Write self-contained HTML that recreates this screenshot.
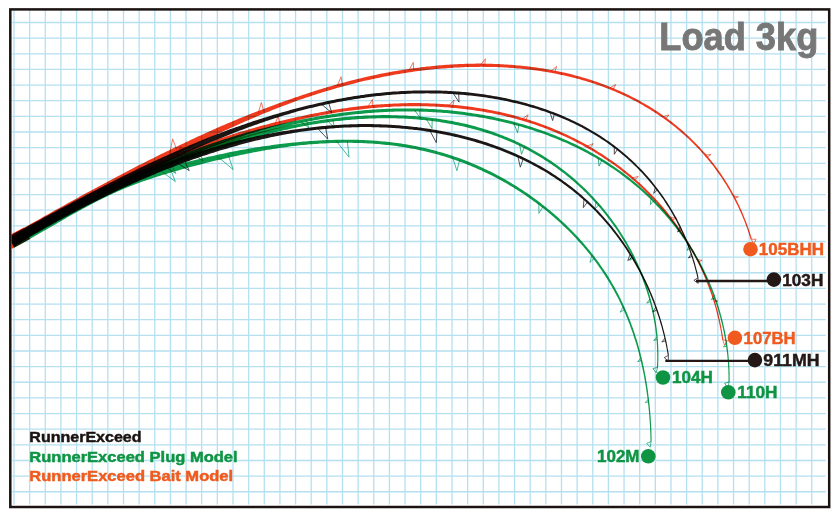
<!DOCTYPE html>
<html lang="en"><head><meta charset="utf-8"><title>Load 3kg bend curve</title>
<style>
html,body{margin:0;padding:0;background:#fff}
body{width:840px;height:521px;overflow:hidden;position:relative;font-family:"Liberation Sans",sans-serif}
#chart{position:absolute;left:0;top:0;width:840px;height:521px}
</style></head><body>
<div id="chart">
<svg width="840" height="521" viewBox="0 0 840 521" style="position:absolute;left:0;top:0">
<rect width="840" height="521" fill="#fff"/>
<path d="M14.00 10V504.5M29.64 10V504.5M45.28 10V504.5M60.93 10V504.5M76.57 10V504.5M92.21 10V504.5M107.85 10V504.5M123.49 10V504.5M139.14 10V504.5M154.78 10V504.5M170.42 10V504.5M186.06 10V504.5M201.70 10V504.5M217.35 10V504.5M232.99 10V504.5M248.63 10V504.5M264.27 10V504.5M279.91 10V504.5M295.56 10V504.5M311.20 10V504.5M326.84 10V504.5M342.48 10V504.5M358.12 10V504.5M373.77 10V504.5M389.41 10V504.5M405.05 10V504.5M420.69 10V504.5M436.33 10V504.5M451.98 10V504.5M467.62 10V504.5M483.26 10V504.5M498.90 10V504.5M514.54 10V504.5M530.19 10V504.5M545.83 10V504.5M561.47 10V504.5M577.11 10V504.5M592.75 10V504.5M608.40 10V504.5M624.04 10V504.5M639.68 10V504.5M655.32 10V504.5M670.96 10V504.5M686.61 10V504.5M702.25 10V504.5M717.89 10V504.5M733.53 10V504.5M749.17 10V504.5M764.82 10V504.5M780.46 10V504.5M796.10 10V504.5M811.74 10V504.5M12.3 22.50H825.8M12.3 38.14H825.8M12.3 53.78H825.8M12.3 69.43H825.8M12.3 85.07H825.8M12.3 100.71H825.8M12.3 116.35H825.8M12.3 131.99H825.8M12.3 147.64H825.8M12.3 163.28H825.8M12.3 178.92H825.8M12.3 194.56H825.8M12.3 210.20H825.8M12.3 225.85H825.8M12.3 241.49H825.8M12.3 257.13H825.8M12.3 272.77H825.8M12.3 288.41H825.8M12.3 304.06H825.8M12.3 319.70H825.8M12.3 335.34H825.8M12.3 350.98H825.8M12.3 366.62H825.8M12.3 382.27H825.8M12.3 397.91H825.8M12.3 413.55H825.8M12.3 429.19H825.8M12.3 444.83H825.8M12.3 460.48H825.8M12.3 476.12H825.8M12.3 491.76H825.8" stroke="#b4e0f0" stroke-width="1.3" fill="none"/>
<defs><clipPath id="inner"><rect x="11.4" y="10.6" width="816.6" height="495"/></clipPath></defs>
<g clip-path="url(#inner)" style="mix-blend-mode:multiply">
<path d="M9 242.9L27 233.2" stroke="#f03a1e" stroke-width="13.2" fill="none"/>
<path d="M14.4 247.7 L16.1 246.8 L17.8 245.8 L19.4 244.9 L21.1 244.0 L22.8 243.0 L24.6 242.0 L26.3 241.1 L28.0 240.1 L29.7 239.1 L31.4 238.1 L33.2 237.1 L34.9 236.1 L36.6 235.1 L38.4 234.1 L40.1 233.1 L41.9 232.1 L43.6 231.1 L45.4 230.1 L47.2 229.0 L49.0 228.0 L50.7 227.0 L52.5 225.9 L54.3 224.9 L56.1 223.9 L57.9 222.8 L59.7 221.8 L61.5 220.7 L63.3 219.7 L65.1 218.7 L66.9 217.6 L68.7 216.6 L70.6 215.6 L72.4 214.5 L74.2 213.5 L76.1 212.5 L77.9 211.5 L79.7 210.5 L81.6 209.5 L83.4 208.5 L85.3 207.5 L87.2 206.5 L89.0 205.5 L90.9 204.5 L92.7 203.5 L94.6 202.5 L96.5 201.6 L98.4 200.6 L100.3 199.7 L102.1 198.7 L104.0 197.8 L105.9 196.9 L107.8 196.0 L109.7 195.1 L111.6 194.2 L113.5 193.3 L115.5 192.5 L117.4 191.6 L119.3 190.8 L121.2 189.9 L123.1 189.1 L125.0 188.3 L127.0 187.5 L128.9 186.7 L130.8 186.0 L132.8 185.2 L134.7 184.5 L136.7 183.7 L138.6 183.0 L140.6 182.3 L142.5 181.6 L144.5 180.9 L146.5 180.2 L148.4 179.6 L150.4 178.9 L152.4 178.2 L154.3 177.6 L156.3 177.0 L158.3 176.3 L160.3 175.7 L162.3 175.1 L164.3 174.5 L166.3 173.9 L168.3 173.3 L170.3 172.7 L172.3 172.1 L174.3 171.5 L176.3 170.9 L178.3 170.4 L180.3 169.8 L182.3 169.3 L184.3 168.7 L186.4 168.1 L188.4 167.6 L190.4 167.1 L192.5 166.5 L194.5 166.0 L196.5 165.4 L198.6 164.9 L200.6 164.4 L202.6 163.9 L204.7 163.3 L206.7 162.8 L208.8 162.3 L210.8 161.8 L212.8 161.3 L214.9 160.8 L216.9 160.3 L219.0 159.9 L221.1 159.4 L223.1 158.9 L225.2 158.4 L227.2 158.0 L229.3 157.5 L231.3 157.1 L233.4 156.6 L235.5 156.2 L237.5 155.7 L239.6 155.3 L241.7 154.8 L243.7 154.4 L245.8 154.0 L247.8 153.6 L249.9 153.2 L252.0 152.7 L254.0 152.3 L256.1 151.9 L258.2 151.6 L260.3 151.2 L262.3 150.8 L264.4 150.4 L266.5 150.1 L268.6 149.7 L270.6 149.4 L272.7 149.0 L274.8 148.7 L276.9 148.4 L278.9 148.1 L281.0 147.8 L283.1 147.5 L285.2 147.2 L287.2 146.9 L289.3 146.6 L291.4 146.3 L293.5 146.1 L295.6 145.8 L297.6 145.6 L299.7 145.3 L301.8 145.1 L303.9 144.9 L306.0 144.7 L308.0 144.5 L310.1 144.3 L312.2 144.2 L314.3 144.0 L316.4 143.9 L318.4 143.7 L320.5 143.6 L322.6 143.5 L324.7 143.4 L326.7 143.3 L328.8 143.2 L330.9 143.1 L333.0 143.0 L335.0 143.0 L337.1 142.9 L339.2 142.9 L341.3 142.8 L343.3 142.8 L345.4 142.8 L347.5 142.8 L349.5 142.8 L351.6 142.8 L353.7 142.9 L355.7 142.9 L357.8 143.0 L359.9 143.0 L361.9 143.1 L364.0 143.2 L366.0 143.3 L368.1 143.4 L370.1 143.5 L372.2 143.6 L374.2 143.8 L376.3 143.9 L378.3 144.1 L380.4 144.3 L382.4 144.5 L384.5 144.7 L386.5 144.9 L388.5 145.1 L390.6 145.3 L392.6 145.6 L394.6 145.8 L396.7 146.1 L398.7 146.4 L400.7 146.7 L402.8 147.0 L404.8 147.3 L406.8 147.7 L408.8 148.0 L410.8 148.4 L412.9 148.7 L414.9 149.1 L416.9 149.5 L418.9 149.9 L420.9 150.4 L422.9 150.8 L424.9 151.3 L426.9 151.7 L428.9 152.2 L430.9 152.7 L432.9 153.2 L434.8 153.7 L436.8 154.3 L438.8 154.8 L440.8 155.4 L442.8 156.0 L444.7 156.6 L446.7 157.2 L448.7 157.8 L450.6 158.4 L452.6 159.1 L454.5 159.8 L456.5 160.5 L458.4 161.1 L460.4 161.9 L462.3 162.6 L464.3 163.3 L466.2 164.1 L468.1 164.9 L470.1 165.6 L472.0 166.4 L473.9 167.2 L475.8 168.1 L477.7 168.9 L479.6 169.7 L481.5 170.6 L483.4 171.5 L485.3 172.4 L487.2 173.3 L489.1 174.2 L491.0 175.1 L492.8 176.1 L494.7 177.0 L496.6 178.0 L498.4 179.0 L500.3 180.0 L502.1 181.0 L503.9 182.0 L505.8 183.1 L507.6 184.1 L509.4 185.2 L511.2 186.3 L513.0 187.3 L514.8 188.4 L516.6 189.6 L518.4 190.7 L520.1 191.8 L521.9 193.0 L523.7 194.1 L525.4 195.3 L527.1 196.5 L528.9 197.7 L530.6 198.9 L532.3 200.1 L534.0 201.4 L535.7 202.6 L537.4 203.9 L539.1 205.1 L540.8 206.4 L542.4 207.7 L544.1 209.0 L545.7 210.3 L547.4 211.6 L549.0 213.0 L550.6 214.3 L552.2 215.7 L553.8 217.0 L555.4 218.4 L556.9 219.8 L558.5 221.2 L560.1 222.6 L561.6 224.1 L563.1 225.5 L564.7 226.9 L566.2 228.4 L567.7 229.8 L569.1 231.3 L570.6 232.8 L572.1 234.3 L573.5 235.8 L575.0 237.3 L576.4 238.8 L577.8 240.4 L579.2 241.9 L580.6 243.5 L582.0 245.0 L583.4 246.6 L584.7 248.2 L586.1 249.8 L587.4 251.4 L588.7 253.0 L590.0 254.6 L591.3 256.2 L592.6 257.9 L593.8 259.5 L595.1 261.2 L596.3 262.8 L597.5 264.5 L598.7 266.2 L599.9 267.9 L601.1 269.6 L602.2 271.3 L603.4 273.0 L604.5 274.7 L605.6 276.4 L606.7 278.2 L607.8 279.9 L608.9 281.7 L610.0 283.4 L611.0 285.2 L612.0 287.0 L613.0 288.8 L614.0 290.6 L615.0 292.4 L616.0 294.2 L616.9 296.0 L617.9 297.8 L618.8 299.6 L619.7 301.5 L620.6 303.3 L621.5 305.2 L622.3 307.0 L623.2 308.9 L624.0 310.8 L624.8 312.7 L625.7 314.5 L626.4 316.4 L627.2 318.3 L628.0 320.2 L628.7 322.2 L629.5 324.1 L630.2 326.0 L630.9 327.9 L631.6 329.9 L632.3 331.8 L633.0 333.8 L633.6 335.7 L634.2 337.7 L634.9 339.7 L635.5 341.6 L636.1 343.6 L636.7 345.6 L637.3 347.6 L637.8 349.6 L638.4 351.6 L638.9 353.6 L639.4 355.6 L639.9 357.6 L640.4 359.6 L640.9 361.7 L641.4 363.7 L641.8 365.7 L642.3 367.8 L642.7 369.8 L643.2 371.9 L643.6 373.9 L644.0 376.0 L644.3 378.1 L644.7 380.1 L645.1 382.2 L645.4 384.3 L645.8 386.4 L646.1 388.5 L646.4 390.5 L646.7 392.6 L647.0 394.7 L647.3 396.8 L647.5 398.9 L647.8 401.1 L648.0 403.2 L648.3 405.3 L648.5 407.4 L648.7 409.5 L648.9 411.7 L649.1 413.8 L649.3 415.9 L649.4 418.1 L649.6 420.2 L649.7 422.3 L649.9 424.5 L650.0 426.6 L650.1 428.8 L650.2 430.9 L650.3 433.1 L650.4 435.2 L650.4 437.4 L650.5 439.6 L650.5 441.7 L651.6 441.7 L651.6 439.5 L651.6 437.4 L651.5 435.2 L651.4 433.0 L651.4 430.9 L651.3 428.7 L651.2 426.6 L651.1 424.4 L650.9 422.3 L650.8 420.1 L650.7 418.0 L650.5 415.8 L650.3 413.7 L650.2 411.5 L650.0 409.4 L649.8 407.3 L649.6 405.1 L649.3 403.0 L649.1 400.9 L648.9 398.8 L648.6 396.7 L648.3 394.6 L648.1 392.4 L647.8 390.3 L647.5 388.2 L647.1 386.1 L646.8 384.1 L646.5 382.0 L646.1 379.9 L645.8 377.8 L645.4 375.7 L645.0 373.7 L644.6 371.6 L644.2 369.5 L643.8 367.5 L643.3 365.4 L642.9 363.4 L642.4 361.3 L641.9 359.3 L641.4 357.2 L640.9 355.2 L640.4 353.2 L639.9 351.2 L639.4 349.2 L638.8 347.1 L638.2 345.1 L637.7 343.1 L637.1 341.1 L636.5 339.2 L635.8 337.2 L635.2 335.2 L634.6 333.2 L633.9 331.3 L633.2 329.3 L632.5 327.3 L631.8 325.4 L631.1 323.5 L630.4 321.5 L629.6 319.6 L628.9 317.7 L628.1 315.8 L627.3 313.8 L626.5 311.9 L625.7 310.0 L624.9 308.2 L624.0 306.3 L623.2 304.4 L622.3 302.5 L621.4 300.7 L620.5 298.8 L619.6 297.0 L618.6 295.1 L617.7 293.3 L616.7 291.5 L615.7 289.6 L614.8 287.8 L613.7 286.0 L612.7 284.2 L611.7 282.4 L610.6 280.6 L609.5 278.9 L608.5 277.1 L607.4 275.3 L606.2 273.6 L605.1 271.9 L604.0 270.1 L602.8 268.4 L601.6 266.7 L600.4 265.0 L599.2 263.3 L598.0 261.6 L596.8 259.9 L595.5 258.2 L594.3 256.6 L593.0 254.9 L591.7 253.3 L590.4 251.6 L589.1 250.0 L587.8 248.4 L586.4 246.8 L585.1 245.2 L583.7 243.6 L582.3 242.0 L580.9 240.4 L579.5 238.8 L578.1 237.3 L576.7 235.7 L575.2 234.2 L573.8 232.7 L572.3 231.2 L570.8 229.7 L569.3 228.2 L567.8 226.7 L566.3 225.2 L564.8 223.7 L563.2 222.3 L561.7 220.9 L560.1 219.4 L558.6 218.0 L557.0 216.6 L555.4 215.2 L553.8 213.8 L552.2 212.4 L550.6 211.1 L548.9 209.7 L547.3 208.4 L545.7 207.0 L544.0 205.7 L542.3 204.4 L540.6 203.1 L539.0 201.8 L537.3 200.5 L535.6 199.3 L533.8 198.0 L532.1 196.8 L530.4 195.5 L528.7 194.3 L526.9 193.1 L525.1 191.9 L523.4 190.7 L521.6 189.6 L519.8 188.4 L518.0 187.3 L516.2 186.1 L514.4 185.0 L512.6 183.9 L510.8 182.8 L509.0 181.7 L507.2 180.7 L505.3 179.6 L503.5 178.6 L501.6 177.5 L499.8 176.5 L497.9 175.5 L496.0 174.5 L494.2 173.5 L492.3 172.6 L490.4 171.6 L488.5 170.7 L486.6 169.8 L484.7 168.9 L482.8 168.0 L480.9 167.1 L478.9 166.2 L477.0 165.3 L475.1 164.5 L473.1 163.7 L471.2 162.9 L469.3 162.1 L467.3 161.3 L465.4 160.5 L463.4 159.8 L461.4 159.0 L459.5 158.3 L457.5 157.6 L455.5 156.9 L453.5 156.2 L451.6 155.6 L449.6 154.9 L447.6 154.3 L445.6 153.7 L443.6 153.1 L441.6 152.5 L439.6 151.9 L437.6 151.4 L435.6 150.8 L433.6 150.3 L431.6 149.8 L429.6 149.3 L427.6 148.8 L425.6 148.3 L423.6 147.8 L421.5 147.4 L419.5 146.9 L417.5 146.5 L415.5 146.1 L413.4 145.7 L411.4 145.3 L409.4 145.0 L407.3 144.6 L405.3 144.3 L403.2 144.0 L401.2 143.6 L399.1 143.3 L397.1 143.0 L395.1 142.8 L393.0 142.5 L390.9 142.3 L388.9 142.0 L386.8 141.8 L384.8 141.6 L382.7 141.4 L380.7 141.2 L378.6 141.0 L376.5 140.8 L374.5 140.7 L372.4 140.5 L370.3 140.4 L368.3 140.3 L366.2 140.2 L364.1 140.1 L362.0 140.0 L360.0 139.9 L357.9 139.8 L355.8 139.8 L353.7 139.7 L351.6 139.7 L349.6 139.7 L347.5 139.7 L345.4 139.7 L343.3 139.7 L341.2 139.7 L339.1 139.7 L337.1 139.8 L335.0 139.8 L332.9 139.9 L330.8 139.9 L328.7 140.0 L326.6 140.1 L324.5 140.2 L322.4 140.3 L320.3 140.4 L318.2 140.5 L316.1 140.7 L314.1 140.8 L312.0 141.0 L309.9 141.1 L307.8 141.3 L305.7 141.5 L303.6 141.6 L301.5 141.8 L299.4 142.0 L297.3 142.2 L295.2 142.4 L293.1 142.6 L291.0 142.8 L288.9 143.0 L286.8 143.3 L284.7 143.5 L282.6 143.7 L280.5 144.0 L278.4 144.3 L276.3 144.5 L274.2 144.8 L272.1 145.1 L270.0 145.4 L267.9 145.7 L265.8 146.0 L263.7 146.3 L261.6 146.6 L259.5 146.9 L257.4 147.3 L255.4 147.6 L253.3 147.9 L251.2 148.3 L249.1 148.6 L247.0 149.0 L244.9 149.4 L242.8 149.7 L240.7 150.1 L238.6 150.5 L236.5 150.9 L234.5 151.3 L232.4 151.7 L230.3 152.1 L228.2 152.6 L226.1 153.0 L224.1 153.4 L222.0 153.9 L219.9 154.3 L217.8 154.8 L215.8 155.2 L213.7 155.7 L211.6 156.2 L209.6 156.6 L207.5 157.1 L205.4 157.6 L203.4 158.1 L201.3 158.5 L199.3 159.0 L197.2 159.5 L195.2 160.0 L193.1 160.5 L191.0 161.0 L189.0 161.6 L187.0 162.1 L184.9 162.6 L182.9 163.1 L180.8 163.6 L178.8 164.2 L176.7 164.7 L174.7 165.2 L172.7 165.8 L170.6 166.3 L168.6 166.9 L166.6 167.5 L164.6 168.0 L162.5 168.6 L160.5 169.2 L158.5 169.8 L156.5 170.4 L154.5 171.0 L152.4 171.6 L150.4 172.2 L148.4 172.9 L146.4 173.5 L144.4 174.2 L142.4 174.8 L140.4 175.5 L138.4 176.2 L136.4 176.9 L134.4 177.6 L132.4 178.3 L130.5 179.1 L128.5 179.8 L126.5 180.6 L124.5 181.4 L122.5 182.2 L120.6 183.0 L118.6 183.8 L116.6 184.6 L114.7 185.4 L112.7 186.3 L110.8 187.2 L108.8 188.0 L106.9 188.9 L104.9 189.8 L103.0 190.7 L101.1 191.6 L99.1 192.5 L97.2 193.5 L95.3 194.4 L93.4 195.4 L91.5 196.3 L89.6 197.3 L87.7 198.2 L85.8 199.2 L83.9 200.2 L82.0 201.2 L80.1 202.2 L78.2 203.2 L76.3 204.2 L74.5 205.2 L72.6 206.2 L70.7 207.2 L68.9 208.2 L67.0 209.2 L65.2 210.3 L63.3 211.3 L61.5 212.3 L59.7 213.3 L57.8 214.3 L56.0 215.4 L54.2 216.4 L52.4 217.4 L50.6 218.4 L48.8 219.5 L47.0 220.5 L45.2 221.5 L43.4 222.5 L41.7 223.5 L39.9 224.5 L38.1 225.5 L36.4 226.5 L34.6 227.5 L32.8 228.5 L31.1 229.5 L29.4 230.5 L27.6 231.4 L25.9 232.4 L24.2 233.4 L22.5 234.3 L20.8 235.2 L19.1 236.2 L17.4 237.1 L15.7 238.0 L14.0 238.9 L12.3 239.8 L10.6 240.7Z" fill="#0c9c4c" style="mix-blend-mode:multiply"/>
<path d="M162.2 171.9L175.4 181.6L170.6 169.5M218.5 157.3L233.0 169.5L228.3 155.1M336.6 141.3L349.0 157.2L347.4 141.2M452.6 157.5L456.9 170.7L459.6 160.0M538.9 203.3L538.9 213.4L543.1 206.6M591.9 255.2L589.9 262.5L594.3 258.4M623.2 306.6L620.2 312.2L624.5 309.7M640.8 357.8L637.6 361.8L641.4 360.4M648.3 399.5L645.1 402.6L648.6 401.9M651.1 441.7L646.6 443.3L650.2 447.2Z" fill="none" stroke="#22aa88" stroke-width="0.8" stroke-linejoin="round" style="mix-blend-mode:multiply"/>
<path d="M14.7 245.5 L16.3 244.5 L18.0 243.5 L19.7 242.4 L21.3 241.4 L23.0 240.4 L24.7 239.4 L26.4 238.3 L28.1 237.3 L29.8 236.3 L31.5 235.3 L33.2 234.3 L34.9 233.3 L36.6 232.3 L38.3 231.3 L40.0 230.3 L41.7 229.3 L43.4 228.3 L45.1 227.3 L46.9 226.3 L48.6 225.3 L50.3 224.4 L52.1 223.4 L53.8 222.4 L55.6 221.4 L57.3 220.5 L59.1 219.5 L60.8 218.5 L62.6 217.6 L64.3 216.6 L66.1 215.7 L67.9 214.7 L69.6 213.8 L71.4 212.8 L73.2 211.9 L75.0 210.9 L76.7 210.0 L78.5 209.1 L80.3 208.1 L82.1 207.2 L83.9 206.3 L85.7 205.4 L87.5 204.4 L89.3 203.5 L91.1 202.6 L92.9 201.7 L94.7 200.8 L96.5 199.9 L98.4 199.0 L100.2 198.1 L102.0 197.2 L103.8 196.3 L105.7 195.4 L107.5 194.6 L109.3 193.7 L111.2 192.8 L113.0 191.9 L114.8 191.1 L116.7 190.2 L118.5 189.3 L120.4 188.5 L122.2 187.6 L124.1 186.8 L125.9 185.9 L127.8 185.1 L129.7 184.2 L131.5 183.4 L133.4 182.6 L135.3 181.7 L137.1 180.9 L139.0 180.1 L140.9 179.3 L142.8 178.4 L144.7 177.6 L146.5 176.8 L148.4 176.0 L150.3 175.2 L152.2 174.4 L154.1 173.6 L156.0 172.8 L157.9 172.0 L159.8 171.2 L161.7 170.4 L163.6 169.7 L165.5 168.9 L167.4 168.1 L169.3 167.3 L171.2 166.6 L173.1 165.8 L175.0 165.1 L177.0 164.3 L178.9 163.6 L180.8 162.8 L182.7 162.1 L184.6 161.3 L186.6 160.6 L188.5 159.9 L190.4 159.1 L192.4 158.4 L194.3 157.7 L196.2 157.0 L198.2 156.3 L200.1 155.6 L202.0 154.9 L204.0 154.2 L205.9 153.5 L207.9 152.8 L209.8 152.1 L211.8 151.5 L213.7 150.8 L215.7 150.1 L217.6 149.5 L219.6 148.8 L221.5 148.1 L223.5 147.5 L225.5 146.9 L227.4 146.2 L229.4 145.6 L231.4 145.0 L233.3 144.3 L235.3 143.7 L237.3 143.1 L239.2 142.5 L241.2 141.9 L243.2 141.3 L245.1 140.7 L247.1 140.1 L249.1 139.5 L251.0 138.9 L253.0 138.4 L255.0 137.8 L257.0 137.2 L259.0 136.7 L260.9 136.1 L262.9 135.6 L264.9 135.1 L266.9 134.5 L268.9 134.0 L270.9 133.5 L272.9 133.0 L274.8 132.5 L276.8 132.0 L278.8 131.5 L280.8 131.0 L282.8 130.6 L284.8 130.1 L286.8 129.7 L288.8 129.2 L290.8 128.8 L292.8 128.3 L294.8 127.9 L296.8 127.5 L298.8 127.1 L300.8 126.7 L302.8 126.3 L304.8 125.9 L306.8 125.5 L308.8 125.2 L310.8 124.8 L312.9 124.5 L314.9 124.2 L316.9 123.9 L318.9 123.5 L320.9 123.2 L322.9 122.9 L324.9 122.7 L326.9 122.4 L329.0 122.1 L331.0 121.8 L333.0 121.6 L335.0 121.3 L337.0 121.1 L339.0 120.9 L341.1 120.7 L343.1 120.5 L345.1 120.3 L347.1 120.1 L349.1 119.9 L351.1 119.7 L353.2 119.5 L355.2 119.4 L357.2 119.2 L359.2 119.1 L361.2 119.0 L363.3 118.9 L365.3 118.7 L367.3 118.7 L369.3 118.6 L371.3 118.5 L373.3 118.4 L375.4 118.4 L377.4 118.3 L379.4 118.3 L381.4 118.2 L383.4 118.2 L385.5 118.2 L387.5 118.2 L389.5 118.2 L391.5 118.2 L393.5 118.3 L395.5 118.3 L397.6 118.4 L399.6 118.4 L401.6 118.5 L403.6 118.6 L405.6 118.7 L407.6 118.8 L409.7 118.9 L411.7 119.1 L413.7 119.2 L415.7 119.3 L417.7 119.5 L419.7 119.7 L421.7 119.9 L423.7 120.1 L425.7 120.3 L427.7 120.5 L429.8 120.7 L431.8 121.0 L433.8 121.2 L435.8 121.5 L437.8 121.8 L439.7 122.1 L441.7 122.4 L443.7 122.7 L445.7 123.0 L447.7 123.4 L449.7 123.7 L451.7 124.1 L453.6 124.5 L455.6 124.9 L457.6 125.3 L459.5 125.7 L461.5 126.1 L463.5 126.6 L465.4 127.0 L467.4 127.5 L469.3 128.0 L471.3 128.4 L473.2 129.0 L475.2 129.5 L477.1 130.0 L479.0 130.6 L480.9 131.1 L482.9 131.7 L484.8 132.3 L486.7 132.9 L488.6 133.5 L490.5 134.1 L492.4 134.8 L494.3 135.4 L496.2 136.1 L498.1 136.8 L499.9 137.5 L501.8 138.2 L503.7 138.9 L505.5 139.7 L507.4 140.4 L509.2 141.2 L511.1 142.0 L512.9 142.8 L514.7 143.6 L516.5 144.5 L518.4 145.3 L520.2 146.2 L522.0 147.1 L523.8 148.0 L525.5 148.9 L527.3 149.8 L529.1 150.8 L530.9 151.7 L532.6 152.7 L534.4 153.7 L536.1 154.7 L537.9 155.7 L539.6 156.7 L541.3 157.7 L543.0 158.8 L544.7 159.9 L546.4 161.0 L548.1 162.1 L549.8 163.2 L551.5 164.3 L553.1 165.4 L554.8 166.6 L556.4 167.8 L558.0 169.0 L559.7 170.2 L561.3 171.4 L562.9 172.6 L564.5 173.8 L566.1 175.1 L567.7 176.4 L569.2 177.6 L570.8 178.9 L572.3 180.2 L573.9 181.5 L575.4 182.9 L576.9 184.2 L578.4 185.6 L579.9 187.0 L581.4 188.3 L582.9 189.7 L584.3 191.2 L585.8 192.6 L587.2 194.0 L588.7 195.5 L590.1 196.9 L591.5 198.4 L592.9 199.9 L594.3 201.4 L595.6 202.9 L597.0 204.4 L598.3 206.0 L599.7 207.5 L601.0 209.1 L602.3 210.6 L603.6 212.2 L604.9 213.8 L606.2 215.4 L607.4 217.0 L608.7 218.7 L609.9 220.3 L611.1 221.9 L612.3 223.6 L613.5 225.3 L614.7 227.0 L615.9 228.6 L617.0 230.3 L618.2 232.1 L619.3 233.8 L620.4 235.5 L621.5 237.2 L622.6 239.0 L623.7 240.7 L624.7 242.5 L625.8 244.3 L626.8 246.1 L627.8 247.9 L628.8 249.7 L629.8 251.5 L630.7 253.3 L631.7 255.1 L632.6 256.9 L633.5 258.8 L634.4 260.6 L635.3 262.5 L636.2 264.3 L637.1 266.2 L637.9 268.1 L638.7 270.0 L639.5 271.8 L640.3 273.7 L641.1 275.6 L641.9 277.5 L642.6 279.5 L643.3 281.4 L644.0 283.3 L644.7 285.2 L645.4 287.2 L646.0 289.1 L646.7 291.1 L647.3 293.0 L647.9 295.0 L648.5 296.9 L649.1 298.9 L649.6 300.9 L650.1 302.8 L650.7 304.8 L651.1 306.8 L651.6 308.8 L652.1 310.8 L652.5 312.8 L652.9 314.8 L653.3 316.7 L653.7 318.8 L654.1 320.8 L654.4 322.8 L654.8 324.8 L655.1 326.8 L655.4 328.8 L655.6 330.8 L655.9 332.8 L656.1 334.9 L656.3 336.9 L656.5 338.9 L656.7 340.9 L656.8 343.0 L656.9 345.0 L657.0 347.0 L657.1 349.1 L657.2 351.1 L657.2 353.1 L657.2 355.2 L657.3 357.2 L657.2 359.2 L657.2 361.3 L657.1 363.3 L657.0 365.3 L656.9 367.4 L658.0 367.4 L658.2 365.4 L658.2 363.3 L658.3 361.3 L658.4 359.2 L658.4 357.2 L658.4 355.2 L658.4 353.1 L658.4 351.1 L658.3 349.0 L658.2 347.0 L658.2 344.9 L658.0 342.9 L657.9 340.8 L657.7 338.8 L657.6 336.8 L657.4 334.7 L657.2 332.7 L656.9 330.7 L656.7 328.6 L656.4 326.6 L656.1 324.6 L655.8 322.5 L655.4 320.5 L655.1 318.5 L654.7 316.5 L654.3 314.5 L653.9 312.5 L653.5 310.5 L653.0 308.4 L652.6 306.4 L652.1 304.5 L651.6 302.5 L651.0 300.5 L650.5 298.5 L649.9 296.5 L649.4 294.5 L648.8 292.6 L648.2 290.6 L647.5 288.6 L646.9 286.7 L646.2 284.7 L645.5 282.8 L644.8 280.8 L644.1 278.9 L643.4 277.0 L642.6 275.0 L641.8 273.1 L641.1 271.2 L640.3 269.3 L639.4 267.4 L638.6 265.5 L637.8 263.6 L636.9 261.7 L636.0 259.9 L635.1 258.0 L634.2 256.1 L633.3 254.3 L632.3 252.5 L631.4 250.6 L630.4 248.8 L629.4 247.0 L628.4 245.2 L627.4 243.4 L626.3 241.6 L625.3 239.8 L624.2 238.0 L623.1 236.2 L622.0 234.5 L620.9 232.7 L619.8 231.0 L618.6 229.3 L617.5 227.6 L616.3 225.8 L615.1 224.1 L613.9 222.5 L612.7 220.8 L611.5 219.1 L610.3 217.4 L609.0 215.8 L607.8 214.2 L606.5 212.5 L605.2 210.9 L603.9 209.3 L602.6 207.7 L601.3 206.1 L599.9 204.6 L598.6 203.0 L597.2 201.5 L595.8 199.9 L594.5 198.4 L593.1 196.9 L591.6 195.4 L590.2 193.9 L588.8 192.5 L587.3 191.0 L585.9 189.6 L584.4 188.1 L582.9 186.7 L581.4 185.3 L579.9 183.9 L578.4 182.5 L576.9 181.2 L575.4 179.8 L573.8 178.5 L572.3 177.1 L570.7 175.8 L569.1 174.5 L567.6 173.2 L566.0 172.0 L564.4 170.7 L562.7 169.5 L561.1 168.2 L559.5 167.0 L557.8 165.8 L556.2 164.6 L554.5 163.4 L552.8 162.3 L551.2 161.1 L549.5 160.0 L547.8 158.9 L546.1 157.8 L544.4 156.7 L542.6 155.6 L540.9 154.5 L539.2 153.5 L537.4 152.4 L535.7 151.4 L533.9 150.4 L532.1 149.4 L530.3 148.4 L528.6 147.5 L526.8 146.5 L525.0 145.6 L523.2 144.7 L521.3 143.8 L519.5 142.9 L517.7 142.0 L515.8 141.2 L514.0 140.3 L512.2 139.5 L510.3 138.7 L508.4 137.9 L506.6 137.1 L504.7 136.4 L502.8 135.6 L500.9 134.9 L499.0 134.2 L497.1 133.4 L495.2 132.8 L493.3 132.1 L491.4 131.4 L489.5 130.8 L487.6 130.1 L485.6 129.5 L483.7 128.9 L481.8 128.3 L479.8 127.7 L477.9 127.2 L475.9 126.6 L474.0 126.1 L472.0 125.6 L470.1 125.1 L468.1 124.6 L466.1 124.1 L464.1 123.6 L462.2 123.2 L460.2 122.7 L458.2 122.3 L456.2 121.9 L454.2 121.5 L452.2 121.1 L450.2 120.7 L448.2 120.4 L446.2 120.0 L444.2 119.7 L442.2 119.4 L440.2 119.1 L438.2 118.8 L436.2 118.5 L434.2 118.2 L432.1 118.0 L430.1 117.7 L428.1 117.5 L426.1 117.2 L424.0 117.0 L422.0 116.8 L420.0 116.6 L418.0 116.5 L415.9 116.3 L413.9 116.1 L411.9 116.0 L409.8 115.9 L407.8 115.7 L405.8 115.6 L403.8 115.5 L401.7 115.4 L399.7 115.4 L397.7 115.3 L395.6 115.2 L393.6 115.2 L391.6 115.2 L389.5 115.1 L387.5 115.1 L385.5 115.1 L383.4 115.1 L381.4 115.1 L379.4 115.2 L377.3 115.2 L375.3 115.2 L373.2 115.3 L371.2 115.4 L369.2 115.4 L367.1 115.5 L365.1 115.6 L363.1 115.7 L361.0 115.9 L359.0 116.0 L357.0 116.1 L354.9 116.3 L352.9 116.4 L350.9 116.6 L348.9 116.7 L346.8 116.9 L344.8 117.1 L342.8 117.3 L340.7 117.5 L338.7 117.7 L336.7 118.0 L334.6 118.2 L332.6 118.4 L330.6 118.7 L328.5 119.0 L326.5 119.2 L324.5 119.5 L322.5 119.8 L320.4 120.1 L318.4 120.4 L316.4 120.7 L314.4 121.0 L312.3 121.4 L310.3 121.7 L308.3 122.0 L306.3 122.4 L304.3 122.7 L302.2 123.1 L300.2 123.5 L298.2 123.8 L296.2 124.2 L294.1 124.6 L292.1 125.0 L290.1 125.3 L288.1 125.7 L286.1 126.2 L284.0 126.6 L282.0 127.0 L280.0 127.4 L278.0 127.9 L276.0 128.3 L274.0 128.7 L271.9 129.2 L269.9 129.7 L267.9 130.1 L265.9 130.6 L263.9 131.1 L261.9 131.6 L259.9 132.1 L257.9 132.6 L255.9 133.1 L253.9 133.6 L251.9 134.1 L249.9 134.6 L247.8 135.2 L245.8 135.7 L243.8 136.2 L241.8 136.8 L239.8 137.3 L237.9 137.9 L235.9 138.5 L233.9 139.0 L231.9 139.6 L229.9 140.2 L227.9 140.8 L225.9 141.4 L223.9 142.0 L221.9 142.6 L220.0 143.3 L218.0 143.9 L216.0 144.5 L214.0 145.2 L212.1 145.8 L210.1 146.4 L208.1 147.1 L206.1 147.7 L204.2 148.4 L202.2 149.1 L200.2 149.7 L198.3 150.4 L196.3 151.1 L194.4 151.8 L192.4 152.5 L190.4 153.1 L188.5 153.8 L186.5 154.5 L184.6 155.2 L182.6 155.9 L180.7 156.7 L178.7 157.4 L176.8 158.1 L174.9 158.8 L172.9 159.5 L171.0 160.3 L169.0 161.0 L167.1 161.7 L165.2 162.5 L163.2 163.2 L161.3 164.0 L159.4 164.7 L157.5 165.5 L155.5 166.3 L153.6 167.0 L151.7 167.8 L149.8 168.6 L147.9 169.4 L146.0 170.1 L144.1 170.9 L142.1 171.7 L140.2 172.5 L138.3 173.3 L136.4 174.1 L134.6 174.9 L132.7 175.7 L130.8 176.6 L128.9 177.4 L127.0 178.2 L125.1 179.0 L123.2 179.9 L121.4 180.7 L119.5 181.5 L117.6 182.4 L115.7 183.2 L113.9 184.1 L112.0 184.9 L110.1 185.8 L108.3 186.6 L106.4 187.5 L104.6 188.4 L102.7 189.2 L100.9 190.1 L99.0 191.0 L97.2 191.9 L95.3 192.8 L93.5 193.6 L91.6 194.5 L89.8 195.4 L88.0 196.3 L86.2 197.2 L84.3 198.1 L82.5 199.0 L80.7 199.9 L78.9 200.9 L77.1 201.8 L75.2 202.7 L73.4 203.6 L71.6 204.5 L69.8 205.5 L68.0 206.4 L66.2 207.3 L64.4 208.3 L62.7 209.2 L60.9 210.2 L59.1 211.1 L57.3 212.1 L55.5 213.0 L53.8 214.0 L52.0 214.9 L50.2 215.9 L48.5 216.9 L46.7 217.8 L44.9 218.8 L43.2 219.8 L41.4 220.7 L39.7 221.7 L37.9 222.7 L36.2 223.7 L34.5 224.7 L32.7 225.7 L31.0 226.7 L29.3 227.7 L27.5 228.7 L25.8 229.7 L24.1 230.7 L22.4 231.7 L20.7 232.7 L19.0 233.7 L17.3 234.7 L15.6 235.7 L13.9 236.8 L12.2 237.8 L10.5 238.8Z" fill="#0c9c4c" style="mix-blend-mode:multiply"/>
<path d="M163.9 166.2L175.8 173.4L170.8 163.5M327.4 120.7L334.6 127.9L332.8 120.0M426.2 118.8L432.0 128.5L432.2 119.5M519.6 144.4L521.5 154.3L524.4 146.8M596.1 201.8L594.7 209.3L598.8 204.9M632.5 254.7L629.7 260.3L634.0 257.7M649.9 299.0L646.8 303.1L650.6 301.6M657.0 337.4L653.7 340.4L657.2 339.7M657.5 367.4L652.9 368.6L656.2 372.8Z" fill="none" stroke="#18a06a" stroke-width="0.8" stroke-linejoin="round" style="mix-blend-mode:multiply"/>
<path d="M15.1 244.5 L16.9 243.4 L18.7 242.3 L20.5 241.2 L22.3 240.2 L24.2 239.1 L26.0 238.0 L27.8 236.9 L29.7 235.9 L31.5 234.8 L33.4 233.7 L35.2 232.6 L37.1 231.6 L38.9 230.5 L40.8 229.4 L42.7 228.4 L44.5 227.3 L46.4 226.2 L48.3 225.2 L50.2 224.1 L52.1 223.1 L54.0 222.0 L55.8 221.0 L57.7 219.9 L59.7 218.9 L61.6 217.8 L63.5 216.8 L65.4 215.7 L67.3 214.7 L69.2 213.6 L71.2 212.6 L73.1 211.6 L75.0 210.5 L77.0 209.5 L78.9 208.5 L80.8 207.4 L82.8 206.4 L84.7 205.4 L86.7 204.4 L88.7 203.4 L90.6 202.3 L92.6 201.3 L94.6 200.3 L96.5 199.3 L98.5 198.3 L100.5 197.3 L102.5 196.3 L104.5 195.3 L106.4 194.3 L108.4 193.4 L110.4 192.4 L112.4 191.4 L114.4 190.4 L116.4 189.4 L118.4 188.5 L120.5 187.5 L122.5 186.5 L124.5 185.6 L126.5 184.6 L128.5 183.7 L130.6 182.7 L132.6 181.8 L134.6 180.8 L136.7 179.9 L138.7 179.0 L140.8 178.0 L142.8 177.1 L144.8 176.2 L146.9 175.3 L148.9 174.4 L151.0 173.5 L153.1 172.5 L155.1 171.6 L157.2 170.7 L159.2 169.8 L161.3 169.0 L163.4 168.1 L165.5 167.2 L167.5 166.3 L169.6 165.4 L171.7 164.6 L173.8 163.7 L175.9 162.8 L177.9 162.0 L180.0 161.1 L182.1 160.3 L184.2 159.5 L186.3 158.6 L188.4 157.8 L190.5 157.0 L192.6 156.2 L194.7 155.4 L196.9 154.6 L199.0 153.8 L201.1 153.0 L203.2 152.2 L205.3 151.4 L207.4 150.6 L209.6 149.8 L211.7 149.1 L213.8 148.3 L215.9 147.6 L218.1 146.8 L220.2 146.1 L222.3 145.3 L224.5 144.6 L226.6 143.9 L228.8 143.2 L230.9 142.5 L233.1 141.8 L235.2 141.1 L237.4 140.4 L239.5 139.7 L241.6 139.0 L243.8 138.3 L246.0 137.6 L248.1 137.0 L250.3 136.3 L252.4 135.6 L254.6 135.0 L256.7 134.3 L258.9 133.7 L261.1 133.1 L263.2 132.5 L265.4 131.9 L267.6 131.3 L269.8 130.7 L271.9 130.1 L274.1 129.5 L276.3 128.9 L278.5 128.4 L280.6 127.8 L282.8 127.3 L285.0 126.7 L287.2 126.2 L289.4 125.7 L291.6 125.1 L293.8 124.6 L295.9 124.1 L298.1 123.6 L300.3 123.1 L302.5 122.7 L304.7 122.2 L306.9 121.8 L309.1 121.3 L311.3 120.9 L313.5 120.5 L315.7 120.1 L317.9 119.7 L320.1 119.3 L322.3 118.9 L324.6 118.6 L326.8 118.2 L329.0 117.9 L331.2 117.5 L333.4 117.2 L335.6 116.9 L337.8 116.5 L340.0 116.2 L342.2 115.9 L344.5 115.6 L346.7 115.4 L348.9 115.1 L351.1 114.8 L353.3 114.6 L355.5 114.3 L357.7 114.1 L360.0 113.9 L362.2 113.7 L364.4 113.5 L366.6 113.3 L368.8 113.1 L371.1 112.9 L373.3 112.7 L375.5 112.6 L377.7 112.4 L379.9 112.3 L382.2 112.2 L384.4 112.0 L386.6 111.9 L388.8 111.8 L391.0 111.8 L393.3 111.7 L395.5 111.6 L397.7 111.6 L399.9 111.5 L402.1 111.5 L404.4 111.5 L406.6 111.5 L408.8 111.5 L411.0 111.5 L413.2 111.5 L415.5 111.5 L417.7 111.6 L419.9 111.6 L422.1 111.7 L424.3 111.8 L426.6 111.8 L428.8 111.9 L431.0 112.0 L433.2 112.2 L435.4 112.3 L437.6 112.4 L439.9 112.6 L442.1 112.8 L444.3 112.9 L446.5 113.1 L448.7 113.3 L450.9 113.5 L453.1 113.8 L455.4 114.0 L457.6 114.2 L459.8 114.5 L462.0 114.8 L464.2 115.1 L466.4 115.4 L468.6 115.7 L470.8 116.0 L473.0 116.3 L475.2 116.6 L477.4 117.0 L479.6 117.4 L481.8 117.7 L484.0 118.1 L486.2 118.5 L488.4 118.9 L490.6 119.4 L492.8 119.8 L495.0 120.2 L497.1 120.7 L499.3 121.2 L501.5 121.7 L503.7 122.2 L505.8 122.7 L508.0 123.2 L510.1 123.7 L512.3 124.3 L514.5 124.9 L516.6 125.4 L518.7 126.0 L520.9 126.6 L523.0 127.2 L525.2 127.9 L527.3 128.5 L529.4 129.2 L531.5 129.8 L533.6 130.5 L535.7 131.2 L537.8 131.9 L539.9 132.6 L542.0 133.3 L544.1 134.1 L546.2 134.8 L548.3 135.6 L550.3 136.4 L552.4 137.2 L554.5 138.0 L556.5 138.8 L558.6 139.7 L560.6 140.5 L562.6 141.4 L564.7 142.2 L566.7 143.1 L568.7 144.0 L570.7 144.9 L572.7 145.9 L574.7 146.8 L576.7 147.8 L578.7 148.7 L580.6 149.7 L582.6 150.7 L584.5 151.7 L586.5 152.8 L588.4 153.8 L590.3 154.9 L592.3 155.9 L594.2 157.0 L596.1 158.1 L598.0 159.2 L599.9 160.3 L601.7 161.5 L603.6 162.6 L605.5 163.8 L607.3 165.0 L609.2 166.2 L611.0 167.4 L612.8 168.6 L614.6 169.8 L616.4 171.1 L618.2 172.3 L620.0 173.6 L621.8 174.9 L623.6 176.2 L625.3 177.5 L627.1 178.9 L628.8 180.2 L630.5 181.6 L632.2 183.0 L633.9 184.4 L635.6 185.8 L637.3 187.2 L639.0 188.6 L640.6 190.1 L642.2 191.5 L643.9 193.0 L645.5 194.5 L647.1 196.0 L648.7 197.5 L650.3 199.1 L651.9 200.6 L653.4 202.2 L655.0 203.8 L656.5 205.4 L658.0 207.0 L659.5 208.6 L661.0 210.2 L662.5 211.9 L664.0 213.5 L665.4 215.2 L666.9 216.9 L668.3 218.6 L669.7 220.3 L671.1 222.0 L672.5 223.7 L673.9 225.4 L675.3 227.2 L676.6 229.0 L677.9 230.7 L679.3 232.5 L680.6 234.3 L681.8 236.1 L683.1 238.0 L684.4 239.8 L685.6 241.6 L686.9 243.5 L688.1 245.4 L689.3 247.2 L690.4 249.1 L691.6 251.0 L692.8 252.9 L693.9 254.9 L695.0 256.8 L696.1 258.7 L697.2 260.7 L698.3 262.6 L699.3 264.6 L700.4 266.6 L701.4 268.6 L702.4 270.5 L703.4 272.6 L704.4 274.6 L705.3 276.6 L706.2 278.6 L707.2 280.7 L708.1 282.7 L708.9 284.8 L709.8 286.8 L710.7 288.9 L711.5 291.0 L712.3 293.1 L713.1 295.2 L713.9 297.3 L714.6 299.4 L715.4 301.5 L716.1 303.6 L716.8 305.8 L717.5 307.9 L718.1 310.1 L718.8 312.2 L719.4 314.4 L720.0 316.6 L720.6 318.7 L721.1 320.9 L721.7 323.1 L722.2 325.3 L722.7 327.5 L723.2 329.7 L723.7 331.9 L724.1 334.1 L724.5 336.4 L724.9 338.6 L725.3 340.8 L725.7 343.1 L726.0 345.3 L726.3 347.6 L726.6 349.8 L726.9 352.1 L727.2 354.4 L727.4 356.6 L727.6 358.9 L727.8 361.2 L728.0 363.5 L728.1 365.8 L728.2 368.1 L728.4 370.4 L728.4 372.7 L728.5 375.0 L728.5 377.3 L728.5 379.6 L728.5 381.9 L729.6 381.9 L729.6 379.6 L729.6 377.3 L729.6 375.0 L729.6 372.6 L729.5 370.3 L729.4 368.0 L729.3 365.7 L729.2 363.4 L729.0 361.1 L728.8 358.8 L728.6 356.5 L728.4 354.2 L728.1 352.0 L727.9 349.7 L727.6 347.4 L727.3 345.1 L726.9 342.9 L726.6 340.6 L726.2 338.4 L725.8 336.1 L725.4 333.9 L725.0 331.7 L724.5 329.4 L724.0 327.2 L723.5 325.0 L723.0 322.8 L722.5 320.6 L721.9 318.4 L721.3 316.2 L720.7 314.0 L720.1 311.8 L719.5 309.7 L718.8 307.5 L718.2 305.3 L717.5 303.2 L716.8 301.0 L716.0 298.9 L715.3 296.8 L714.5 294.6 L713.7 292.5 L712.9 290.4 L712.1 288.3 L711.2 286.2 L710.4 284.2 L709.5 282.1 L708.6 280.0 L707.7 278.0 L706.8 275.9 L705.8 273.9 L704.8 271.8 L703.9 269.8 L702.9 267.8 L701.8 265.8 L700.8 263.8 L699.8 261.8 L698.7 259.9 L697.6 257.9 L696.5 255.9 L695.4 254.0 L694.3 252.1 L693.1 250.1 L691.9 248.2 L690.8 246.3 L689.6 244.4 L688.3 242.5 L687.1 240.7 L685.9 238.8 L684.6 236.9 L683.3 235.1 L682.0 233.3 L680.7 231.4 L679.4 229.6 L678.1 227.8 L676.7 226.1 L675.4 224.3 L674.0 222.5 L672.6 220.8 L671.2 219.0 L669.8 217.3 L668.4 215.6 L666.9 213.9 L665.5 212.2 L664.0 210.5 L662.5 208.9 L661.0 207.2 L659.5 205.6 L658.0 204.0 L656.4 202.4 L654.9 200.8 L653.3 199.2 L651.7 197.6 L650.1 196.1 L648.5 194.5 L646.9 193.0 L645.3 191.5 L643.7 190.0 L642.0 188.5 L640.3 187.0 L638.7 185.6 L637.0 184.1 L635.3 182.7 L633.6 181.3 L631.9 179.9 L630.1 178.5 L628.4 177.1 L626.6 175.8 L624.9 174.4 L623.1 173.1 L621.3 171.8 L619.5 170.5 L617.7 169.2 L615.9 168.0 L614.1 166.7 L612.3 165.5 L610.4 164.2 L608.6 163.0 L606.7 161.8 L604.8 160.6 L603.0 159.5 L601.1 158.3 L599.2 157.2 L597.3 156.1 L595.4 154.9 L593.4 153.8 L591.5 152.8 L589.6 151.7 L587.6 150.6 L585.7 149.6 L583.7 148.6 L581.7 147.6 L579.7 146.6 L577.8 145.6 L575.8 144.6 L573.8 143.6 L571.8 142.7 L569.7 141.8 L567.7 140.8 L565.7 139.9 L563.6 139.0 L561.6 138.2 L559.5 137.3 L557.5 136.4 L555.4 135.6 L553.4 134.8 L551.3 134.0 L549.2 133.2 L547.1 132.4 L545.0 131.6 L542.9 130.9 L540.8 130.1 L538.7 129.4 L536.6 128.7 L534.5 128.0 L532.3 127.3 L530.2 126.6 L528.1 125.9 L525.9 125.3 L523.8 124.6 L521.6 124.0 L519.5 123.4 L517.3 122.8 L515.2 122.2 L513.0 121.6 L510.8 121.0 L508.7 120.5 L506.5 119.9 L504.3 119.4 L502.1 118.9 L499.9 118.4 L497.7 117.9 L495.5 117.4 L493.4 117.0 L491.2 116.5 L489.0 116.1 L486.7 115.7 L484.5 115.3 L482.3 114.8 L480.1 114.5 L477.9 114.1 L475.7 113.7 L473.5 113.4 L471.3 113.0 L469.0 112.7 L466.8 112.4 L464.6 112.1 L462.4 111.8 L460.1 111.5 L457.9 111.3 L455.7 111.0 L453.5 110.8 L451.2 110.5 L449.0 110.3 L446.8 110.1 L444.5 109.9 L442.3 109.7 L440.1 109.6 L437.9 109.4 L435.6 109.3 L433.4 109.1 L431.2 109.0 L428.9 108.9 L426.7 108.8 L424.5 108.7 L422.2 108.6 L420.0 108.6 L417.7 108.5 L415.5 108.5 L413.3 108.4 L411.0 108.4 L408.8 108.4 L406.6 108.4 L404.3 108.4 L402.1 108.4 L399.9 108.4 L397.6 108.5 L395.4 108.5 L393.2 108.6 L390.9 108.7 L388.7 108.8 L386.5 108.8 L384.2 109.0 L382.0 109.1 L379.8 109.2 L377.5 109.3 L375.3 109.5 L373.1 109.6 L370.8 109.8 L368.6 110.0 L366.4 110.1 L364.1 110.3 L361.9 110.5 L359.7 110.8 L357.4 111.0 L355.2 111.2 L353.0 111.5 L350.7 111.7 L348.5 112.0 L346.3 112.2 L344.1 112.5 L341.8 112.8 L339.6 113.1 L337.4 113.4 L335.2 113.7 L332.9 114.1 L330.7 114.4 L328.5 114.7 L326.3 115.1 L324.0 115.4 L321.8 115.8 L319.6 116.2 L317.4 116.6 L315.2 117.0 L312.9 117.4 L310.7 117.8 L308.5 118.2 L306.3 118.6 L304.1 119.1 L301.9 119.5 L299.7 119.9 L297.4 120.4 L295.2 120.8 L293.0 121.3 L290.8 121.8 L288.6 122.2 L286.4 122.7 L284.2 123.2 L282.0 123.7 L279.8 124.2 L277.6 124.7 L275.4 125.2 L273.2 125.7 L271.0 126.3 L268.8 126.8 L266.6 127.4 L264.4 127.9 L262.2 128.5 L260.0 129.0 L257.8 129.6 L255.6 130.2 L253.4 130.8 L251.2 131.4 L249.0 132.0 L246.8 132.6 L244.6 133.2 L242.5 133.8 L240.3 134.5 L238.1 135.1 L235.9 135.7 L233.7 136.4 L231.6 137.1 L229.4 137.7 L227.2 138.4 L225.1 139.1 L222.9 139.8 L220.7 140.5 L218.6 141.2 L216.4 141.9 L214.2 142.6 L212.1 143.3 L209.9 144.1 L207.8 144.8 L205.6 145.6 L203.5 146.3 L201.3 147.1 L199.2 147.8 L197.1 148.6 L194.9 149.4 L192.8 150.1 L190.7 150.9 L188.5 151.7 L186.4 152.5 L184.3 153.3 L182.1 154.1 L180.0 154.9 L177.9 155.7 L175.8 156.5 L173.7 157.4 L171.6 158.2 L169.4 159.0 L167.3 159.9 L165.2 160.7 L163.1 161.6 L161.0 162.4 L158.9 163.3 L156.8 164.1 L154.7 165.0 L152.7 165.9 L150.6 166.8 L148.5 167.6 L146.4 168.5 L144.3 169.4 L142.2 170.3 L140.2 171.2 L138.1 172.1 L136.0 173.0 L134.0 174.0 L131.9 174.9 L129.9 175.8 L127.8 176.7 L125.8 177.7 L123.7 178.6 L121.7 179.6 L119.6 180.5 L117.6 181.4 L115.6 182.4 L113.5 183.4 L111.5 184.3 L109.5 185.3 L107.5 186.2 L105.4 187.2 L103.4 188.2 L101.4 189.2 L99.4 190.1 L97.4 191.1 L95.4 192.1 L93.4 193.1 L91.4 194.1 L89.4 195.1 L87.4 196.1 L85.4 197.1 L83.5 198.1 L81.5 199.1 L79.5 200.1 L77.5 201.1 L75.6 202.1 L73.6 203.1 L71.7 204.1 L69.7 205.2 L67.7 206.2 L65.8 207.2 L63.9 208.2 L61.9 209.3 L60.0 210.3 L58.0 211.3 L56.1 212.4 L54.2 213.4 L52.3 214.4 L50.4 215.5 L48.4 216.5 L46.5 217.6 L44.6 218.6 L42.7 219.7 L40.8 220.7 L38.9 221.8 L37.1 222.8 L35.2 223.9 L33.3 224.9 L31.4 226.0 L29.5 227.0 L27.7 228.1 L25.8 229.2 L24.0 230.2 L22.1 231.3 L20.3 232.3 L18.4 233.4 L16.6 234.5 L14.7 235.5 L12.9 236.6 L11.1 237.7Z" fill="#0c9c4c" style="mix-blend-mode:multiply"/>
<path d="M191.6 153.6L203.3 160.9L198.5 151.0M301.1 121.3L308.7 127.9L306.4 120.2M414.4 110.0L420.3 118.1L419.7 110.1M513.7 123.2L517.6 132.6L518.9 124.6M598.1 157.9L599.1 166.1L601.9 160.2M651.1 198.4L650.3 204.7L653.5 200.8M689.0 245.2L687.0 250.5L690.6 247.7M714.0 295.4L711.3 299.7L714.9 298.0M726.4 343.8L723.4 347.0L726.8 346.1M729.1 381.9L724.6 383.4L728.0 387.4Z" fill="none" stroke="#18a06a" stroke-width="0.8" stroke-linejoin="round" style="mix-blend-mode:multiply"/>
<path d="M15.2 243.9 L16.9 242.8 L18.7 241.8 L20.4 240.7 L22.1 239.6 L23.9 238.6 L25.6 237.5 L27.4 236.4 L29.1 235.4 L30.9 234.3 L32.6 233.3 L34.4 232.2 L36.2 231.2 L37.9 230.1 L39.7 229.1 L41.5 228.0 L43.3 227.0 L45.1 225.9 L46.8 224.9 L48.6 223.9 L50.4 222.8 L52.2 221.8 L54.0 220.8 L55.8 219.8 L57.7 218.7 L59.5 217.7 L61.3 216.7 L63.1 215.7 L64.9 214.7 L66.8 213.6 L68.6 212.6 L70.4 211.6 L72.3 210.6 L74.1 209.6 L76.0 208.6 L77.8 207.6 L79.7 206.6 L81.5 205.6 L83.4 204.6 L85.2 203.7 L87.1 202.7 L89.0 201.7 L90.9 200.7 L92.7 199.7 L94.6 198.8 L96.5 197.8 L98.4 196.8 L100.3 195.9 L102.2 194.9 L104.1 194.0 L106.0 193.0 L107.9 192.0 L109.8 191.1 L111.7 190.2 L113.6 189.2 L115.5 188.3 L117.4 187.3 L119.3 186.4 L121.2 185.5 L123.2 184.6 L125.1 183.6 L127.0 182.7 L129.0 181.8 L130.9 180.9 L132.8 180.0 L134.8 179.1 L136.7 178.2 L138.7 177.3 L140.6 176.4 L142.6 175.5 L144.5 174.6 L146.5 173.7 L148.4 172.8 L150.4 172.0 L152.4 171.1 L154.3 170.2 L156.3 169.3 L158.3 168.5 L160.2 167.6 L162.2 166.7 L164.2 165.9 L166.2 165.0 L168.2 164.2 L170.1 163.4 L172.1 162.5 L174.1 161.7 L176.1 160.8 L178.1 160.0 L180.1 159.2 L182.1 158.4 L184.1 157.6 L186.1 156.8 L188.1 156.0 L190.1 155.1 L192.1 154.4 L194.1 153.6 L196.2 152.8 L198.2 152.0 L200.2 151.2 L202.2 150.4 L204.2 149.7 L206.3 148.9 L208.3 148.1 L210.3 147.4 L212.3 146.6 L214.4 145.9 L216.4 145.2 L218.4 144.4 L220.5 143.7 L222.5 143.0 L224.6 142.2 L226.6 141.5 L228.7 140.8 L230.7 140.1 L232.7 139.4 L234.8 138.7 L236.8 138.0 L238.9 137.3 L240.9 136.7 L243.0 136.0 L245.1 135.3 L247.1 134.6 L249.2 134.0 L251.2 133.3 L253.3 132.7 L255.4 132.0 L257.4 131.4 L259.5 130.7 L261.6 130.1 L263.6 129.5 L265.7 128.9 L267.8 128.3 L269.8 127.7 L271.9 127.1 L274.0 126.5 L276.1 125.9 L278.1 125.4 L280.2 124.8 L282.3 124.2 L284.4 123.7 L286.5 123.1 L288.6 122.6 L290.7 122.1 L292.7 121.5 L294.8 121.0 L296.9 120.5 L299.0 120.0 L301.1 119.5 L303.2 119.0 L305.3 118.6 L307.4 118.1 L309.5 117.7 L311.6 117.2 L313.7 116.8 L315.8 116.4 L317.9 116.0 L320.0 115.6 L322.1 115.2 L324.2 114.8 L326.4 114.4 L328.5 114.0 L330.6 113.7 L332.7 113.3 L334.8 113.0 L336.9 112.6 L339.0 112.3 L341.1 112.0 L343.2 111.6 L345.3 111.3 L347.5 111.0 L349.6 110.7 L351.7 110.5 L353.8 110.2 L355.9 109.9 L358.0 109.7 L360.2 109.4 L362.3 109.2 L364.4 108.9 L366.5 108.7 L368.6 108.5 L370.7 108.3 L372.9 108.1 L375.0 107.9 L377.1 107.7 L379.2 107.6 L381.3 107.4 L383.4 107.3 L385.6 107.1 L387.7 107.0 L389.8 106.9 L391.9 106.7 L394.0 106.6 L396.2 106.5 L398.3 106.5 L400.4 106.4 L402.5 106.3 L404.6 106.3 L406.8 106.2 L408.9 106.2 L411.0 106.2 L413.1 106.2 L415.2 106.2 L417.3 106.2 L419.5 106.2 L421.6 106.2 L423.7 106.2 L425.8 106.3 L427.9 106.3 L430.0 106.4 L432.2 106.5 L434.3 106.6 L436.4 106.7 L438.5 106.8 L440.6 106.9 L442.7 107.0 L444.8 107.2 L447.0 107.3 L449.1 107.5 L451.2 107.7 L453.3 107.9 L455.4 108.1 L457.5 108.3 L459.6 108.5 L461.7 108.7 L463.8 109.0 L465.9 109.2 L468.0 109.5 L470.1 109.8 L472.2 110.0 L474.3 110.3 L476.4 110.7 L478.5 111.0 L480.6 111.3 L482.7 111.6 L484.8 112.0 L486.9 112.4 L489.0 112.8 L491.1 113.1 L493.2 113.6 L495.2 114.0 L497.3 114.4 L499.4 114.8 L501.5 115.3 L503.5 115.8 L505.6 116.2 L507.6 116.7 L509.7 117.2 L511.8 117.8 L513.8 118.3 L515.9 118.8 L517.9 119.4 L519.9 120.0 L522.0 120.6 L524.0 121.2 L526.0 121.8 L528.1 122.4 L530.1 123.0 L532.1 123.7 L534.1 124.3 L536.1 125.0 L538.1 125.7 L540.1 126.4 L542.1 127.1 L544.1 127.9 L546.1 128.6 L548.0 129.4 L550.0 130.2 L552.0 130.9 L553.9 131.7 L555.9 132.6 L557.8 133.4 L559.8 134.2 L561.7 135.1 L563.6 135.9 L565.6 136.8 L567.5 137.7 L569.4 138.6 L571.3 139.5 L573.2 140.5 L575.1 141.4 L577.0 142.4 L578.8 143.4 L580.7 144.3 L582.6 145.3 L584.4 146.4 L586.3 147.4 L588.1 148.4 L590.0 149.5 L591.8 150.5 L593.6 151.6 L595.4 152.7 L597.2 153.8 L599.0 154.9 L600.8 156.1 L602.6 157.2 L604.3 158.4 L606.1 159.5 L607.8 160.7 L609.6 161.9 L611.3 163.1 L613.0 164.3 L614.8 165.6 L616.5 166.8 L618.2 168.1 L619.9 169.3 L621.5 170.6 L623.2 171.9 L624.9 173.2 L626.5 174.5 L628.2 175.9 L629.8 177.2 L631.4 178.6 L633.0 179.9 L634.6 181.3 L636.2 182.7 L637.8 184.1 L639.4 185.6 L640.9 187.0 L642.5 188.4 L644.0 189.9 L645.5 191.4 L647.0 192.9 L648.5 194.4 L650.0 195.9 L651.5 197.4 L653.0 198.9 L654.4 200.5 L655.9 202.0 L657.3 203.6 L658.7 205.2 L660.1 206.8 L661.5 208.4 L662.9 210.0 L664.3 211.6 L665.6 213.2 L667.0 214.9 L668.3 216.5 L669.7 218.2 L671.0 219.9 L672.3 221.6 L673.5 223.3 L674.8 225.0 L676.1 226.7 L677.3 228.4 L678.5 230.2 L679.8 231.9 L681.0 233.7 L682.1 235.5 L683.3 237.2 L684.5 239.0 L685.6 240.8 L686.8 242.7 L687.9 244.5 L689.0 246.3 L690.1 248.2 L691.1 250.0 L692.2 251.9 L693.2 253.7 L694.3 255.6 L695.3 257.5 L696.3 259.4 L697.3 261.3 L698.2 263.2 L699.2 265.2 L700.1 267.1 L701.0 269.0 L701.9 271.0 L702.8 273.0 L703.7 274.9 L704.6 276.9 L705.4 278.9 L706.2 280.9 L707.0 282.9 L707.8 284.9 L708.6 286.9 L709.3 288.9 L710.1 291.0 L710.8 293.0 L711.5 295.1 L712.2 297.1 L712.9 299.2 L713.5 301.3 L714.2 303.4 L714.8 305.4 L715.4 307.5 L716.0 309.6 L716.5 311.8 L717.1 313.9 L717.6 316.0 L718.1 318.1 L718.6 320.3 L719.1 322.4 L719.5 324.6 L720.0 326.7 L720.4 328.9 L720.8 331.1 L721.2 333.2 L721.5 335.4 L721.9 337.6 L722.2 339.8 L723.3 339.7 L723.0 337.5 L722.6 335.3 L722.3 333.1 L721.9 330.9 L721.5 328.7 L721.1 326.5 L720.7 324.3 L720.3 322.2 L719.8 320.0 L719.3 317.9 L718.8 315.7 L718.3 313.6 L717.7 311.4 L717.2 309.3 L716.6 307.2 L716.0 305.1 L715.4 303.0 L714.8 300.9 L714.1 298.8 L713.5 296.7 L712.8 294.6 L712.1 292.6 L711.4 290.5 L710.6 288.5 L709.9 286.4 L709.1 284.4 L708.3 282.4 L707.5 280.3 L706.7 278.3 L705.9 276.3 L705.0 274.3 L704.2 272.4 L703.3 270.4 L702.4 268.4 L701.5 266.5 L700.5 264.5 L699.6 262.6 L698.6 260.6 L697.6 258.7 L696.6 256.8 L695.6 254.9 L694.6 253.0 L693.6 251.1 L692.5 249.2 L691.4 247.4 L690.4 245.5 L689.3 243.6 L688.1 241.8 L687.0 240.0 L685.9 238.2 L684.7 236.3 L683.5 234.5 L682.4 232.7 L681.2 231.0 L679.9 229.2 L678.7 227.4 L677.5 225.7 L676.2 223.9 L674.9 222.2 L673.7 220.5 L672.4 218.8 L671.1 217.1 L669.7 215.4 L668.4 213.7 L667.1 212.1 L665.7 210.4 L664.3 208.8 L662.9 207.1 L661.5 205.5 L660.1 203.9 L658.7 202.3 L657.3 200.7 L655.8 199.2 L654.4 197.6 L652.9 196.1 L651.4 194.5 L649.9 193.0 L648.4 191.5 L646.9 190.0 L645.4 188.5 L643.8 187.0 L642.3 185.5 L640.7 184.1 L639.1 182.6 L637.6 181.2 L636.0 179.8 L634.4 178.4 L632.7 177.0 L631.1 175.6 L629.5 174.3 L627.8 172.9 L626.2 171.6 L624.5 170.2 L622.8 168.9 L621.2 167.6 L619.5 166.3 L617.8 165.1 L616.0 163.8 L614.3 162.5 L612.6 161.3 L610.8 160.1 L609.1 158.9 L607.3 157.7 L605.6 156.5 L603.8 155.3 L602.0 154.1 L600.2 153.0 L598.4 151.9 L596.6 150.7 L594.8 149.6 L593.0 148.5 L591.1 147.5 L589.3 146.4 L587.4 145.3 L585.6 144.3 L583.7 143.3 L581.8 142.2 L580.0 141.2 L578.1 140.3 L576.2 139.3 L574.3 138.3 L572.4 137.4 L570.5 136.4 L568.5 135.5 L566.6 134.6 L564.7 133.7 L562.7 132.8 L560.8 131.9 L558.8 131.1 L556.9 130.2 L554.9 129.4 L552.9 128.6 L551.0 127.8 L549.0 127.0 L547.0 126.2 L545.0 125.5 L543.0 124.7 L541.0 124.0 L539.0 123.3 L537.0 122.5 L534.9 121.8 L532.9 121.2 L530.9 120.5 L528.9 119.8 L526.8 119.2 L524.8 118.6 L522.7 118.0 L520.7 117.4 L518.6 116.8 L516.6 116.2 L514.5 115.6 L512.5 115.1 L510.4 114.6 L508.3 114.0 L506.2 113.5 L504.2 113.0 L502.1 112.6 L500.0 112.1 L497.9 111.6 L495.8 111.2 L493.7 110.8 L491.6 110.3 L489.5 109.9 L487.4 109.5 L485.3 109.1 L483.2 108.8 L481.1 108.4 L479.0 108.1 L476.9 107.7 L474.8 107.4 L472.7 107.1 L470.5 106.8 L468.4 106.5 L466.3 106.3 L464.2 106.0 L462.1 105.7 L459.9 105.5 L457.8 105.3 L455.7 105.1 L453.6 104.9 L451.4 104.7 L449.3 104.5 L447.2 104.3 L445.1 104.2 L442.9 104.0 L440.8 103.9 L438.7 103.8 L436.5 103.7 L434.4 103.5 L432.3 103.5 L430.1 103.4 L428.0 103.3 L425.9 103.2 L423.8 103.2 L421.6 103.2 L419.5 103.1 L417.4 103.1 L415.2 103.1 L413.1 103.1 L411.0 103.1 L408.8 103.1 L406.7 103.2 L404.6 103.2 L402.4 103.3 L400.3 103.3 L398.2 103.4 L396.0 103.5 L393.9 103.6 L391.8 103.7 L389.6 103.8 L387.5 103.9 L385.4 104.0 L383.2 104.2 L381.1 104.3 L379.0 104.5 L376.8 104.6 L374.7 104.8 L372.6 105.0 L370.4 105.2 L368.3 105.4 L366.2 105.6 L364.1 105.8 L361.9 106.1 L359.8 106.3 L357.7 106.5 L355.5 106.8 L353.4 107.1 L351.3 107.3 L349.2 107.6 L347.0 107.9 L344.9 108.2 L342.8 108.5 L340.7 108.8 L338.5 109.2 L336.4 109.5 L334.3 109.8 L332.2 110.2 L330.0 110.5 L327.9 110.9 L325.8 111.3 L323.7 111.7 L321.6 112.1 L319.4 112.5 L317.3 112.9 L315.2 113.3 L313.1 113.7 L311.0 114.1 L308.9 114.6 L306.7 115.0 L304.6 115.5 L302.5 115.9 L300.4 116.4 L298.3 116.8 L296.2 117.3 L294.1 117.7 L292.0 118.2 L289.8 118.7 L287.7 119.2 L285.6 119.7 L283.5 120.2 L281.4 120.7 L279.3 121.2 L277.2 121.7 L275.1 122.2 L273.0 122.8 L270.9 123.3 L268.8 123.9 L266.7 124.4 L264.6 125.0 L262.5 125.5 L260.4 126.1 L258.3 126.7 L256.2 127.3 L254.1 127.9 L252.0 128.5 L249.9 129.1 L247.9 129.7 L245.8 130.3 L243.7 130.9 L241.6 131.5 L239.5 132.1 L237.4 132.8 L235.3 133.4 L233.3 134.1 L231.2 134.7 L229.1 135.4 L227.1 136.1 L225.0 136.8 L222.9 137.4 L220.9 138.1 L218.8 138.8 L216.7 139.5 L214.7 140.2 L212.6 141.0 L210.6 141.7 L208.5 142.4 L206.5 143.1 L204.4 143.9 L202.4 144.6 L200.3 145.3 L198.3 146.1 L196.2 146.8 L194.2 147.6 L192.1 148.4 L190.1 149.1 L188.1 149.9 L186.0 150.7 L184.0 151.4 L182.0 152.2 L180.0 153.0 L177.9 153.8 L175.9 154.6 L173.9 155.4 L171.9 156.2 L169.9 157.0 L167.8 157.8 L165.8 158.6 L163.8 159.4 L161.8 160.3 L159.8 161.1 L157.8 161.9 L155.8 162.8 L153.8 163.6 L151.8 164.5 L149.8 165.3 L147.9 166.2 L145.9 167.0 L143.9 167.9 L141.9 168.7 L139.9 169.6 L138.0 170.5 L136.0 171.4 L134.0 172.2 L132.1 173.1 L130.1 174.0 L128.1 174.9 L126.2 175.8 L124.2 176.7 L122.3 177.6 L120.3 178.5 L118.4 179.4 L116.4 180.4 L114.5 181.3 L112.6 182.2 L110.6 183.1 L108.7 184.1 L106.8 185.0 L104.8 185.9 L102.9 186.9 L101.0 187.8 L99.1 188.7 L97.2 189.7 L95.2 190.6 L93.3 191.6 L91.4 192.5 L89.5 193.5 L87.6 194.5 L85.7 195.4 L83.9 196.4 L82.0 197.4 L80.1 198.3 L78.2 199.3 L76.3 200.3 L74.4 201.3 L72.6 202.3 L70.7 203.3 L68.8 204.2 L67.0 205.2 L65.1 206.2 L63.3 207.2 L61.4 208.2 L59.6 209.2 L57.7 210.2 L55.9 211.3 L54.0 212.3 L52.2 213.3 L50.4 214.3 L48.6 215.3 L46.7 216.3 L44.9 217.3 L43.1 218.4 L41.3 219.4 L39.5 220.4 L37.7 221.5 L35.9 222.5 L34.1 223.5 L32.3 224.6 L30.5 225.6 L28.7 226.6 L26.9 227.7 L25.2 228.7 L23.4 229.8 L21.6 230.8 L19.8 231.9 L18.1 232.9 L16.3 234.0 L14.6 235.0 L12.8 236.1 L11.1 237.2Z" fill="#f03a1e" style="mix-blend-mode:multiply"/>
<path d="M177.5 157.1L180.6 146.2L183.1 154.9M274.8 124.3L278.3 116.1L279.4 123.1M367.7 107.0L372.4 99.5L372.3 106.6M448.6 105.9L454.1 99.9L452.9 106.3M522.0 119.1L528.1 114.7L525.8 120.3M586.7 146.3L593.1 143.6L589.9 148.1M632.1 177.8L638.3 176.5L634.6 180.0M670.5 217.8L676.2 217.8L672.4 220.2M697.2 259.5L702.1 260.4L698.4 261.9M713.7 299.7L717.9 301.2L714.4 301.9M722.7 339.7L727.4 340.6L724.5 345.0Z" fill="none" stroke="#f2553a" stroke-width="0.8" stroke-linejoin="round" style="mix-blend-mode:multiply"/>
<path d="M13.6 243.9 L15.5 242.8 L17.3 241.7 L19.2 240.7 L21.0 239.6 L22.8 238.5 L24.7 237.5 L26.5 236.4 L28.3 235.3 L30.2 234.2 L32.0 233.2 L33.9 232.1 L35.7 231.0 L37.5 230.0 L39.4 228.9 L41.2 227.8 L43.1 226.8 L44.9 225.7 L46.7 224.7 L48.6 223.6 L50.4 222.5 L52.3 221.5 L54.1 220.4 L56.0 219.3 L57.8 218.3 L59.6 217.2 L61.5 216.2 L63.3 215.1 L65.2 214.1 L67.0 213.0 L68.9 212.0 L70.7 210.9 L72.6 209.9 L74.4 208.8 L76.3 207.8 L78.1 206.7 L80.0 205.7 L81.8 204.6 L83.7 203.6 L85.6 202.5 L87.4 201.5 L89.3 200.5 L91.1 199.4 L93.0 198.4 L94.8 197.4 L96.7 196.3 L98.6 195.3 L100.4 194.3 L102.3 193.2 L104.2 192.2 L106.0 191.2 L107.9 190.2 L109.7 189.1 L111.6 188.1 L113.5 187.1 L115.3 186.1 L117.2 185.1 L119.1 184.0 L121.0 183.0 L122.8 182.0 L124.7 181.0 L126.6 180.0 L128.5 179.0 L130.3 178.0 L132.2 177.0 L134.1 176.0 L136.0 175.0 L137.8 174.0 L139.7 173.0 L141.6 172.0 L143.5 171.0 L145.4 170.0 L147.3 169.0 L149.1 168.0 L151.0 167.0 L152.9 166.1 L154.8 165.1 L156.7 164.1 L158.6 163.1 L160.5 162.1 L162.4 161.1 L164.2 160.2 L166.1 159.2 L168.0 158.2 L169.9 157.3 L171.8 156.3 L173.7 155.3 L175.6 154.4 L177.5 153.4 L179.4 152.5 L181.3 151.5 L183.2 150.6 L185.1 149.6 L187.1 148.7 L189.0 147.7 L190.9 146.8 L192.8 145.8 L194.7 144.9 L196.6 144.0 L198.5 143.0 L200.4 142.1 L202.4 141.2 L204.3 140.3 L206.2 139.4 L208.1 138.4 L210.1 137.5 L212.0 136.6 L213.9 135.7 L215.8 134.8 L217.8 133.9 L219.7 133.0 L221.6 132.1 L223.6 131.2 L225.5 130.3 L227.5 129.5 L229.4 128.6 L231.3 127.7 L233.3 126.8 L235.2 125.9 L237.1 125.1 L239.1 124.2 L241.0 123.3 L243.0 122.5 L244.9 121.6 L246.9 120.7 L248.8 119.9 L250.8 119.0 L252.7 118.2 L254.7 117.4 L256.7 116.5 L258.6 115.7 L260.6 114.9 L262.5 114.1 L264.5 113.3 L266.5 112.5 L268.5 111.7 L270.4 110.9 L272.4 110.1 L274.4 109.3 L276.4 108.5 L278.3 107.7 L280.3 106.9 L282.3 106.2 L284.3 105.4 L286.3 104.7 L288.3 103.9 L290.3 103.2 L292.3 102.4 L294.3 101.7 L296.3 101.0 L298.3 100.3 L300.3 99.6 L302.3 98.9 L304.3 98.2 L306.3 97.5 L308.4 96.9 L310.4 96.2 L312.4 95.5 L314.4 94.9 L316.5 94.2 L318.5 93.6 L320.5 93.0 L322.5 92.3 L324.6 91.7 L326.6 91.1 L328.7 90.5 L330.7 89.9 L332.7 89.3 L334.8 88.7 L336.8 88.1 L338.9 87.5 L340.9 87.0 L343.0 86.4 L345.0 85.8 L347.1 85.3 L349.2 84.7 L351.2 84.2 L353.3 83.7 L355.4 83.2 L357.4 82.6 L359.5 82.1 L361.6 81.6 L363.6 81.1 L365.7 80.6 L367.8 80.2 L369.9 79.7 L372.0 79.2 L374.1 78.8 L376.2 78.3 L378.2 77.9 L380.3 77.5 L382.4 77.0 L384.5 76.6 L386.6 76.2 L388.7 75.8 L390.8 75.4 L393.0 75.0 L395.1 74.6 L397.2 74.3 L399.3 73.9 L401.4 73.6 L403.5 73.2 L405.7 72.9 L407.8 72.6 L409.9 72.2 L412.0 71.9 L414.2 71.6 L416.3 71.3 L418.5 71.1 L420.6 70.8 L422.7 70.5 L424.9 70.3 L427.0 70.0 L429.2 69.8 L431.3 69.5 L433.5 69.3 L435.6 69.1 L437.8 68.9 L439.9 68.7 L442.1 68.5 L444.2 68.4 L446.4 68.2 L448.5 68.0 L450.7 67.9 L452.8 67.8 L455.0 67.6 L457.2 67.5 L459.3 67.4 L461.5 67.3 L463.6 67.2 L465.8 67.1 L468.0 67.1 L470.1 67.0 L472.3 66.9 L474.4 66.9 L476.6 66.9 L478.7 66.9 L480.9 66.8 L483.0 66.8 L485.2 66.9 L487.4 66.9 L489.5 66.9 L491.7 67.0 L493.8 67.0 L496.0 67.1 L498.1 67.2 L500.2 67.3 L502.4 67.3 L504.5 67.5 L506.7 67.6 L508.8 67.7 L510.9 67.9 L513.1 68.0 L515.2 68.2 L517.3 68.4 L519.5 68.6 L521.6 68.8 L523.7 69.0 L525.8 69.2 L528.0 69.4 L530.1 69.7 L532.2 69.9 L534.3 70.2 L536.4 70.5 L538.5 70.8 L540.6 71.1 L542.7 71.4 L544.8 71.8 L546.9 72.1 L549.0 72.5 L551.1 72.8 L553.1 73.2 L555.2 73.6 L557.3 74.0 L559.3 74.4 L561.4 74.9 L563.5 75.3 L565.5 75.8 L567.6 76.2 L569.6 76.7 L571.6 77.2 L573.7 77.7 L575.7 78.3 L577.7 78.8 L579.8 79.3 L581.8 79.9 L583.8 80.5 L585.8 81.1 L587.8 81.7 L589.8 82.3 L591.8 82.9 L593.8 83.6 L595.7 84.2 L597.7 84.9 L599.7 85.6 L601.6 86.3 L603.6 87.0 L605.5 87.7 L607.5 88.5 L609.4 89.2 L611.3 90.0 L613.3 90.8 L615.2 91.6 L617.1 92.4 L619.0 93.2 L620.9 94.1 L622.8 94.9 L624.6 95.8 L626.5 96.7 L628.4 97.6 L630.2 98.5 L632.1 99.4 L633.9 100.4 L635.8 101.3 L637.6 102.3 L639.4 103.3 L641.2 104.3 L643.0 105.3 L644.8 106.4 L646.6 107.4 L648.4 108.5 L650.2 109.6 L651.9 110.7 L653.7 111.8 L655.4 112.9 L657.2 114.1 L658.9 115.2 L660.6 116.4 L662.3 117.6 L664.0 118.8 L665.7 120.0 L667.4 121.2 L669.1 122.5 L670.7 123.7 L672.4 125.0 L674.0 126.3 L675.6 127.6 L677.2 129.0 L678.8 130.3 L680.4 131.6 L682.0 133.0 L683.6 134.4 L685.2 135.8 L686.7 137.2 L688.2 138.6 L689.8 140.1 L691.3 141.5 L692.8 143.0 L694.3 144.5 L695.8 146.0 L697.2 147.5 L698.7 149.0 L700.1 150.6 L701.5 152.1 L702.9 153.7 L704.3 155.3 L705.7 156.9 L707.1 158.5 L708.5 160.2 L709.8 161.8 L711.1 163.5 L712.5 165.1 L713.8 166.8 L715.0 168.5 L716.3 170.3 L717.6 172.0 L718.8 173.7 L720.0 175.5 L721.3 177.3 L722.5 179.1 L723.6 180.9 L724.8 182.7 L726.0 184.5 L727.1 186.4 L728.2 188.2 L729.3 190.1 L730.4 192.0 L731.5 193.9 L732.5 195.8 L733.6 197.8 L734.6 199.7 L735.6 201.7 L736.6 203.7 L737.6 205.6 L738.5 207.6 L739.5 209.7 L740.4 211.7 L741.3 213.7 L742.2 215.8 L743.0 217.9 L743.9 220.0 L744.7 222.1 L745.5 224.2 L746.3 226.3 L747.1 228.5 L747.8 230.6 L748.6 232.8 L749.3 235.0 L750.0 237.2 L750.7 239.4 L751.8 239.0 L751.2 236.8 L750.5 234.6 L749.8 232.4 L749.0 230.2 L748.3 228.0 L747.5 225.9 L746.8 223.7 L746.0 221.6 L745.1 219.5 L744.3 217.4 L743.4 215.3 L742.6 213.2 L741.7 211.1 L740.7 209.1 L739.8 207.0 L738.9 205.0 L737.9 203.0 L736.9 201.0 L735.9 199.0 L734.9 197.1 L733.9 195.1 L732.8 193.2 L731.7 191.3 L730.7 189.4 L729.6 187.5 L728.4 185.6 L727.3 183.7 L726.2 181.9 L725.0 180.0 L723.8 178.2 L722.6 176.4 L721.4 174.6 L720.2 172.8 L718.9 171.0 L717.7 169.3 L716.4 167.5 L715.1 165.8 L713.8 164.1 L712.5 162.4 L711.2 160.7 L709.8 159.1 L708.5 157.4 L707.1 155.8 L705.7 154.1 L704.3 152.5 L702.9 150.9 L701.4 149.4 L700.0 147.8 L698.6 146.2 L697.1 144.7 L695.6 143.2 L694.1 141.7 L692.6 140.2 L691.1 138.7 L689.6 137.2 L688.0 135.8 L686.5 134.4 L684.9 132.9 L683.3 131.5 L681.7 130.1 L680.1 128.8 L678.5 127.4 L676.9 126.1 L675.3 124.7 L673.6 123.4 L672.0 122.1 L670.3 120.8 L668.6 119.6 L666.9 118.3 L665.2 117.1 L663.5 115.9 L661.8 114.6 L660.1 113.5 L658.4 112.3 L656.6 111.1 L654.9 110.0 L653.1 108.8 L651.3 107.7 L649.6 106.6 L647.8 105.5 L646.0 104.5 L644.2 103.4 L642.3 102.4 L640.5 101.3 L638.7 100.3 L636.8 99.3 L635.0 98.3 L633.1 97.4 L631.3 96.4 L629.4 95.5 L627.5 94.6 L625.7 93.7 L623.8 92.8 L621.9 91.9 L620.0 91.0 L618.0 90.2 L616.1 89.4 L614.2 88.5 L612.3 87.7 L610.3 87.0 L608.4 86.2 L606.4 85.4 L604.5 84.7 L602.5 83.9 L600.5 83.2 L598.5 82.5 L596.6 81.8 L594.6 81.2 L592.6 80.5 L590.6 79.8 L588.6 79.2 L586.5 78.6 L584.5 78.0 L582.5 77.4 L580.5 76.8 L578.4 76.2 L576.4 75.7 L574.4 75.2 L572.3 74.6 L570.2 74.1 L568.2 73.6 L566.1 73.1 L564.1 72.6 L562.0 72.2 L559.9 71.7 L557.8 71.3 L555.7 70.9 L553.7 70.5 L551.6 70.1 L549.5 69.7 L547.4 69.3 L545.3 69.0 L543.2 68.6 L541.0 68.3 L538.9 67.9 L536.8 67.6 L534.7 67.3 L532.6 67.0 L530.4 66.8 L528.3 66.5 L526.2 66.3 L524.0 66.0 L521.9 65.8 L519.8 65.6 L517.6 65.4 L515.5 65.2 L513.3 65.0 L511.2 64.8 L509.0 64.7 L506.9 64.5 L504.7 64.4 L502.6 64.3 L500.4 64.2 L498.2 64.1 L496.1 64.0 L493.9 63.9 L491.7 63.8 L489.6 63.8 L487.4 63.7 L485.2 63.7 L483.1 63.7 L480.9 63.6 L478.7 63.6 L476.6 63.6 L474.4 63.7 L472.2 63.7 L470.0 63.7 L467.9 63.8 L465.7 63.8 L463.5 63.9 L461.3 64.0 L459.2 64.1 L457.0 64.2 L454.8 64.3 L452.6 64.4 L450.5 64.5 L448.3 64.7 L446.1 64.8 L444.0 65.0 L441.8 65.2 L439.6 65.3 L437.5 65.5 L435.3 65.7 L433.1 65.9 L431.0 66.2 L428.8 66.4 L426.6 66.6 L424.5 66.9 L422.3 67.1 L420.2 67.4 L418.0 67.7 L415.9 68.0 L413.7 68.3 L411.6 68.6 L409.4 68.9 L407.3 69.2 L405.1 69.5 L403.0 69.8 L400.9 70.2 L398.7 70.5 L396.6 70.9 L394.5 71.3 L392.3 71.6 L390.2 72.0 L388.1 72.4 L386.0 72.8 L383.9 73.2 L381.8 73.6 L379.6 74.1 L377.5 74.5 L375.4 74.9 L373.3 75.4 L371.2 75.8 L369.1 76.3 L367.0 76.8 L364.9 77.3 L362.9 77.7 L360.8 78.2 L358.7 78.7 L356.6 79.2 L354.5 79.8 L352.4 80.3 L350.4 80.8 L348.3 81.3 L346.2 81.9 L344.1 82.4 L342.1 83.0 L340.0 83.6 L337.9 84.1 L335.9 84.7 L333.8 85.3 L331.8 85.9 L329.7 86.5 L327.6 87.1 L325.6 87.7 L323.5 88.3 L321.5 88.9 L319.5 89.6 L317.4 90.2 L315.4 90.8 L313.3 91.5 L311.3 92.2 L309.3 92.8 L307.2 93.5 L305.2 94.2 L303.2 94.8 L301.2 95.5 L299.1 96.2 L297.1 96.9 L295.1 97.6 L293.1 98.3 L291.1 99.0 L289.0 99.7 L287.0 100.4 L285.0 101.1 L283.0 101.8 L281.0 102.5 L278.9 103.2 L276.9 104.0 L274.9 104.7 L272.9 105.4 L270.9 106.2 L268.9 106.9 L266.9 107.7 L264.9 108.4 L262.9 109.2 L260.9 110.0 L258.9 110.7 L256.9 111.5 L254.9 112.3 L252.9 113.1 L250.9 113.8 L249.0 114.6 L247.0 115.4 L245.0 116.2 L243.0 117.0 L241.0 117.8 L239.0 118.6 L237.1 119.4 L235.1 120.3 L233.1 121.1 L231.1 121.9 L229.1 122.7 L227.2 123.6 L225.2 124.4 L223.3 125.3 L221.3 126.1 L219.3 127.0 L217.4 127.8 L215.4 128.7 L213.5 129.6 L211.5 130.5 L209.6 131.3 L207.6 132.2 L205.7 133.1 L203.7 134.0 L201.8 134.9 L199.8 135.8 L197.9 136.6 L195.9 137.5 L194.0 138.4 L192.0 139.3 L190.1 140.3 L188.2 141.2 L186.2 142.1 L184.3 143.0 L182.4 143.9 L180.4 144.8 L178.5 145.7 L176.6 146.7 L174.7 147.6 L172.7 148.5 L170.8 149.4 L168.9 150.4 L167.0 151.3 L165.0 152.3 L163.1 153.2 L161.2 154.1 L159.3 155.1 L157.4 156.0 L155.5 157.0 L153.5 157.9 L151.6 158.9 L149.7 159.8 L147.8 160.8 L145.9 161.7 L144.0 162.7 L142.1 163.7 L140.2 164.6 L138.3 165.6 L136.4 166.6 L134.5 167.6 L132.6 168.5 L130.7 169.5 L128.8 170.5 L126.9 171.5 L125.0 172.5 L123.1 173.5 L121.2 174.5 L119.3 175.4 L117.4 176.4 L115.6 177.4 L113.7 178.4 L111.8 179.4 L109.9 180.4 L108.0 181.4 L106.1 182.4 L104.2 183.4 L102.4 184.4 L100.5 185.5 L98.6 186.5 L96.7 187.5 L94.8 188.5 L93.0 189.5 L91.1 190.5 L89.2 191.5 L87.3 192.6 L85.5 193.6 L83.6 194.6 L81.7 195.6 L79.8 196.6 L78.0 197.7 L76.1 198.7 L74.2 199.7 L72.4 200.7 L70.5 201.8 L68.6 202.8 L66.8 203.8 L64.9 204.9 L63.0 205.9 L61.2 206.9 L59.3 208.0 L57.4 209.0 L55.6 210.0 L53.7 211.1 L51.9 212.1 L50.0 213.2 L48.1 214.2 L46.3 215.2 L44.4 216.3 L42.6 217.3 L40.7 218.4 L38.9 219.4 L37.0 220.5 L35.1 221.5 L33.3 222.6 L31.4 223.6 L29.6 224.7 L27.7 225.7 L25.9 226.8 L24.0 227.8 L22.2 228.9 L20.3 229.9 L18.5 231.0 L16.6 232.0 L14.8 233.1 L12.9 234.1 L11.1 235.2 L9.2 236.2Z" fill="#f03a1e" style="mix-blend-mode:multiply"/>
<path d="M169.7 153.7L172.6 138.8L176.9 150.1M258.2 113.4L261.3 102.5L263.8 111.2M337.2 86.2L341.0 76.8L342.4 84.7M408.7 70.7L413.3 62.4L413.7 70.0M480.3 65.2L485.4 58.8L484.7 65.3M550.9 71.4L556.6 66.3L554.9 72.1M609.7 88.0L615.7 84.5L613.1 89.4M662.9 116.7L669.0 114.9L665.7 118.7M705.2 154.9L710.9 154.6L707.1 157.2M733.5 195.9L738.4 196.8L734.7 198.3M751.2 239.2L756.0 239.3L753.8 244.2Z" fill="none" stroke="#f2553a" stroke-width="0.8" stroke-linejoin="round" style="mix-blend-mode:multiply"/>
<path d="M13.9 246.5 L15.6 245.5 L17.3 244.5 L18.9 243.5 L20.6 242.5 L22.3 241.5 L23.9 240.5 L25.6 239.5 L27.3 238.5 L29.0 237.6 L30.7 236.6 L32.3 235.6 L34.0 234.6 L35.7 233.6 L37.4 232.7 L39.1 231.7 L40.8 230.7 L42.5 229.7 L44.2 228.8 L45.9 227.8 L47.6 226.8 L49.4 225.9 L51.1 224.9 L52.8 224.0 L54.5 223.0 L56.2 222.1 L57.9 221.1 L59.7 220.2 L61.4 219.2 L63.1 218.3 L64.9 217.3 L66.6 216.4 L68.3 215.5 L70.1 214.5 L71.8 213.6 L73.6 212.7 L75.3 211.7 L77.1 210.8 L78.8 209.9 L80.6 209.0 L82.3 208.1 L84.1 207.2 L85.8 206.3 L87.6 205.3 L89.4 204.4 L91.1 203.5 L92.9 202.7 L94.7 201.8 L96.5 200.9 L98.2 200.0 L100.0 199.1 L101.8 198.2 L103.6 197.4 L105.4 196.5 L107.2 195.6 L108.9 194.7 L110.7 193.9 L112.5 193.0 L114.3 192.2 L116.1 191.3 L117.9 190.5 L119.7 189.6 L121.5 188.8 L123.3 188.0 L125.2 187.1 L127.0 186.3 L128.8 185.5 L130.6 184.7 L132.4 183.8 L134.2 183.0 L136.0 182.2 L137.9 181.4 L139.7 180.6 L141.5 179.8 L143.4 179.0 L145.2 178.2 L147.0 177.5 L148.8 176.7 L150.7 175.9 L152.5 175.1 L154.4 174.4 L156.2 173.6 L158.0 172.8 L159.9 172.1 L161.7 171.3 L163.6 170.6 L165.4 169.8 L167.3 169.1 L169.1 168.4 L171.0 167.7 L172.8 166.9 L174.7 166.2 L176.6 165.5 L178.4 164.8 L180.3 164.1 L182.2 163.4 L184.0 162.7 L185.9 162.0 L187.8 161.4 L189.6 160.7 L191.5 160.0 L193.4 159.3 L195.3 158.7 L197.2 158.0 L199.0 157.4 L200.9 156.7 L202.8 156.1 L204.7 155.5 L206.6 154.9 L208.5 154.2 L210.4 153.6 L212.3 153.0 L214.2 152.4 L216.0 151.8 L217.9 151.2 L219.8 150.6 L221.8 150.1 L223.7 149.5 L225.6 148.9 L227.5 148.4 L229.4 147.8 L231.3 147.3 L233.2 146.7 L235.1 146.2 L237.0 145.7 L238.9 145.1 L240.9 144.6 L242.8 144.1 L244.7 143.6 L246.6 143.1 L248.5 142.6 L250.5 142.1 L252.4 141.6 L254.3 141.1 L256.2 140.6 L258.2 140.2 L260.1 139.7 L262.0 139.3 L264.0 138.8 L265.9 138.4 L267.8 138.0 L269.8 137.5 L271.7 137.1 L273.7 136.7 L275.6 136.3 L277.5 135.9 L279.5 135.5 L281.4 135.2 L283.4 134.8 L285.3 134.4 L287.3 134.1 L289.2 133.7 L291.2 133.4 L293.1 133.1 L295.1 132.7 L297.1 132.4 L299.0 132.1 L301.0 131.8 L302.9 131.5 L304.9 131.2 L306.9 131.0 L308.8 130.7 L310.8 130.5 L312.8 130.3 L314.8 130.0 L316.7 129.8 L318.7 129.6 L320.7 129.4 L322.7 129.2 L324.6 129.0 L326.6 128.9 L328.6 128.7 L330.6 128.5 L332.6 128.4 L334.5 128.2 L336.5 128.1 L338.5 128.0 L340.5 127.8 L342.5 127.7 L344.5 127.6 L346.5 127.5 L348.4 127.5 L350.4 127.4 L352.4 127.3 L354.4 127.3 L356.4 127.2 L358.4 127.2 L360.4 127.1 L362.4 127.1 L364.4 127.1 L366.4 127.1 L368.4 127.1 L370.4 127.1 L372.4 127.2 L374.4 127.2 L376.4 127.2 L378.4 127.3 L380.4 127.4 L382.4 127.4 L384.4 127.5 L386.4 127.6 L388.4 127.7 L390.4 127.8 L392.4 127.9 L394.4 128.0 L396.4 128.2 L398.4 128.3 L400.4 128.5 L402.3 128.7 L404.3 128.8 L406.3 129.0 L408.3 129.2 L410.3 129.4 L412.3 129.6 L414.3 129.9 L416.3 130.1 L418.3 130.3 L420.2 130.6 L422.2 130.8 L424.2 131.1 L426.2 131.4 L428.2 131.7 L430.1 132.0 L432.1 132.3 L434.1 132.6 L436.0 133.0 L438.0 133.3 L440.0 133.7 L441.9 134.0 L443.9 134.4 L445.8 134.8 L447.8 135.2 L449.7 135.6 L451.7 136.0 L453.6 136.4 L455.5 136.9 L457.5 137.3 L459.4 137.8 L461.3 138.3 L463.3 138.7 L465.2 139.2 L467.1 139.7 L469.0 140.2 L470.9 140.8 L472.8 141.3 L474.7 141.8 L476.6 142.4 L478.5 142.9 L480.4 143.5 L482.3 144.1 L484.2 144.7 L486.0 145.3 L487.9 145.9 L489.8 146.5 L491.6 147.2 L493.5 147.8 L495.3 148.5 L497.2 149.2 L499.0 149.8 L500.9 150.5 L502.7 151.2 L504.5 152.0 L506.3 152.7 L508.2 153.4 L510.0 154.2 L511.8 154.9 L513.6 155.7 L515.4 156.5 L517.1 157.3 L518.9 158.1 L520.7 158.9 L522.5 159.7 L524.2 160.6 L526.0 161.4 L527.7 162.3 L529.5 163.2 L531.2 164.1 L532.9 165.0 L534.6 165.9 L536.3 166.8 L538.0 167.8 L539.7 168.7 L541.4 169.7 L543.1 170.6 L544.8 171.6 L546.5 172.6 L548.1 173.6 L549.8 174.7 L551.4 175.7 L553.1 176.7 L554.7 177.8 L556.3 178.9 L557.9 179.9 L559.5 181.0 L561.1 182.1 L562.7 183.3 L564.3 184.4 L565.9 185.5 L567.4 186.7 L569.0 187.9 L570.5 189.0 L572.1 190.2 L573.6 191.4 L575.1 192.7 L576.6 193.9 L578.1 195.1 L579.6 196.4 L581.1 197.7 L582.6 199.0 L584.0 200.3 L585.5 201.6 L586.9 202.9 L588.3 204.2 L589.8 205.6 L591.2 206.9 L592.6 208.3 L594.0 209.7 L595.4 211.1 L596.7 212.5 L598.1 213.9 L599.4 215.4 L600.8 216.8 L602.1 218.3 L603.4 219.7 L604.7 221.2 L606.0 222.7 L607.3 224.2 L608.6 225.7 L609.9 227.3 L611.1 228.8 L612.4 230.4 L613.6 231.9 L614.8 233.5 L616.0 235.1 L617.2 236.7 L618.4 238.3 L619.6 239.9 L620.8 241.5 L621.9 243.2 L623.1 244.8 L624.2 246.5 L625.3 248.1 L626.4 249.8 L627.5 251.5 L628.6 253.2 L629.7 254.9 L630.7 256.6 L631.8 258.3 L632.8 260.0 L633.8 261.7 L634.8 263.5 L635.8 265.2 L636.8 267.0 L637.8 268.7 L638.8 270.5 L639.7 272.3 L640.6 274.1 L641.6 275.9 L642.5 277.7 L643.4 279.5 L644.2 281.3 L645.1 283.1 L646.0 284.9 L646.8 286.7 L647.6 288.6 L648.5 290.4 L649.3 292.3 L650.1 294.1 L650.8 296.0 L651.6 297.8 L652.3 299.7 L653.1 301.6 L653.8 303.5 L654.5 305.3 L655.2 307.2 L655.9 309.1 L656.5 311.0 L657.2 312.9 L657.8 314.8 L658.5 316.7 L659.1 318.7 L659.7 320.6 L660.2 322.5 L660.8 324.4 L661.4 326.3 L661.9 328.3 L662.4 330.2 L662.9 332.1 L663.4 334.1 L663.9 336.0 L664.4 338.0 L664.8 339.9 L665.2 341.8 L665.7 343.8 L666.1 345.7 L666.5 347.7 L666.8 349.6 L667.2 351.6 L667.5 353.5 L667.9 355.5 L668.9 355.3 L668.6 353.4 L668.3 351.4 L667.9 349.4 L667.5 347.5 L667.2 345.5 L666.8 343.6 L666.4 341.6 L665.9 339.6 L665.5 337.7 L665.1 335.7 L664.6 333.8 L664.1 331.8 L663.6 329.9 L663.1 327.9 L662.6 326.0 L662.0 324.1 L661.5 322.1 L660.9 320.2 L660.3 318.3 L659.7 316.3 L659.1 314.4 L658.5 312.5 L657.8 310.6 L657.2 308.7 L656.5 306.8 L655.8 304.9 L655.1 303.0 L654.4 301.1 L653.7 299.2 L652.9 297.3 L652.2 295.4 L651.4 293.6 L650.6 291.7 L649.8 289.8 L649.0 288.0 L648.2 286.1 L647.3 284.3 L646.5 282.4 L645.6 280.6 L644.7 278.8 L643.9 277.0 L642.9 275.1 L642.0 273.3 L641.1 271.5 L640.2 269.8 L639.2 268.0 L638.2 266.2 L637.3 264.4 L636.3 262.7 L635.3 260.9 L634.2 259.1 L633.2 257.4 L632.2 255.7 L631.1 254.0 L630.0 252.2 L629.0 250.5 L627.9 248.8 L626.8 247.1 L625.7 245.5 L624.5 243.8 L623.4 242.1 L622.2 240.5 L621.1 238.8 L619.9 237.2 L618.7 235.6 L617.5 234.0 L616.3 232.4 L615.1 230.8 L613.8 229.2 L612.6 227.6 L611.3 226.1 L610.1 224.5 L608.8 223.0 L607.5 221.5 L606.2 219.9 L604.9 218.4 L603.6 216.9 L602.2 215.5 L600.9 214.0 L599.6 212.5 L598.2 211.1 L596.8 209.7 L595.4 208.2 L594.0 206.8 L592.6 205.4 L591.2 204.1 L589.8 202.7 L588.3 201.3 L586.9 200.0 L585.4 198.7 L584.0 197.4 L582.5 196.1 L581.0 194.8 L579.5 193.5 L578.0 192.2 L576.5 191.0 L575.0 189.7 L573.4 188.5 L571.9 187.3 L570.3 186.1 L568.8 184.9 L567.2 183.7 L565.6 182.6 L564.0 181.4 L562.4 180.3 L560.8 179.1 L559.2 178.0 L557.6 176.9 L556.0 175.8 L554.3 174.8 L552.7 173.7 L551.0 172.6 L549.4 171.6 L547.7 170.6 L546.0 169.6 L544.3 168.5 L542.7 167.6 L541.0 166.6 L539.2 165.6 L537.5 164.7 L535.8 163.7 L534.1 162.8 L532.3 161.9 L530.6 160.9 L528.8 160.1 L527.1 159.2 L525.3 158.3 L523.6 157.4 L521.8 156.6 L520.0 155.7 L518.2 154.9 L516.4 154.1 L514.6 153.3 L512.8 152.5 L511.0 151.7 L509.2 151.0 L507.3 150.2 L505.5 149.5 L503.7 148.7 L501.8 148.0 L500.0 147.3 L498.1 146.6 L496.3 145.9 L494.4 145.2 L492.5 144.6 L490.7 143.9 L488.8 143.3 L486.9 142.6 L485.0 142.0 L483.1 141.4 L481.2 140.8 L479.3 140.2 L477.4 139.6 L475.5 139.1 L473.6 138.5 L471.7 138.0 L469.8 137.4 L467.8 136.9 L465.9 136.4 L464.0 135.9 L462.0 135.4 L460.1 135.0 L458.1 134.5 L456.2 134.0 L454.2 133.6 L452.3 133.2 L450.3 132.7 L448.4 132.3 L446.4 131.9 L444.4 131.5 L442.5 131.2 L440.5 130.8 L438.5 130.4 L436.5 130.1 L434.6 129.7 L432.6 129.4 L430.6 129.1 L428.6 128.8 L426.6 128.5 L424.6 128.2 L422.6 127.9 L420.6 127.6 L418.6 127.4 L416.6 127.1 L414.6 126.9 L412.6 126.7 L410.6 126.4 L408.6 126.2 L406.6 126.0 L404.6 125.9 L402.6 125.7 L400.6 125.5 L398.6 125.3 L396.6 125.2 L394.6 125.1 L392.6 124.9 L390.5 124.8 L388.5 124.7 L386.5 124.6 L384.5 124.5 L382.5 124.4 L380.5 124.3 L378.5 124.3 L376.4 124.2 L374.4 124.2 L372.4 124.1 L370.4 124.1 L368.4 124.1 L366.4 124.1 L364.4 124.1 L362.4 124.1 L360.4 124.1 L358.3 124.1 L356.3 124.2 L354.3 124.2 L352.3 124.3 L350.3 124.3 L348.3 124.4 L346.3 124.5 L344.3 124.6 L342.3 124.7 L340.3 124.8 L338.3 124.9 L336.3 125.0 L334.3 125.2 L332.3 125.3 L330.3 125.5 L328.3 125.6 L326.3 125.8 L324.4 126.0 L322.4 126.1 L320.4 126.3 L318.4 126.5 L316.4 126.7 L314.4 127.0 L312.4 127.2 L310.4 127.4 L308.5 127.7 L306.5 127.9 L304.5 128.2 L302.5 128.4 L300.5 128.7 L298.6 128.9 L296.6 129.2 L294.6 129.5 L292.6 129.8 L290.7 130.1 L288.7 130.4 L286.7 130.7 L284.7 131.0 L282.8 131.3 L280.8 131.6 L278.8 132.0 L276.9 132.3 L274.9 132.7 L272.9 133.0 L271.0 133.4 L269.0 133.8 L267.0 134.1 L265.1 134.5 L263.1 134.9 L261.2 135.3 L259.2 135.7 L257.2 136.1 L255.3 136.5 L253.3 137.0 L251.4 137.4 L249.4 137.8 L247.5 138.3 L245.5 138.7 L243.6 139.2 L241.6 139.7 L239.7 140.1 L237.8 140.6 L235.8 141.1 L233.9 141.6 L231.9 142.1 L230.0 142.6 L228.1 143.1 L226.1 143.7 L224.2 144.2 L222.3 144.8 L220.4 145.3 L218.4 145.9 L216.5 146.4 L214.6 147.0 L212.7 147.5 L210.7 148.1 L208.8 148.7 L206.9 149.3 L205.0 149.9 L203.1 150.5 L201.2 151.1 L199.3 151.7 L197.3 152.3 L195.4 152.9 L193.5 153.6 L191.6 154.2 L189.7 154.9 L187.8 155.5 L185.9 156.1 L184.0 156.8 L182.1 157.5 L180.2 158.1 L178.4 158.8 L176.5 159.5 L174.6 160.2 L172.7 160.9 L170.8 161.5 L168.9 162.2 L167.0 162.9 L165.2 163.7 L163.3 164.4 L161.4 165.1 L159.5 165.8 L157.7 166.5 L155.8 167.3 L153.9 168.0 L152.1 168.7 L150.2 169.5 L148.3 170.2 L146.5 171.0 L144.6 171.7 L142.8 172.5 L140.9 173.3 L139.1 174.1 L137.2 174.9 L135.4 175.6 L133.5 176.4 L131.7 177.2 L129.8 178.0 L128.0 178.8 L126.2 179.6 L124.3 180.4 L122.5 181.3 L120.7 182.1 L118.8 182.9 L117.0 183.7 L115.2 184.6 L113.4 185.4 L111.6 186.2 L109.7 187.1 L107.9 187.9 L106.1 188.8 L104.3 189.6 L102.5 190.5 L100.7 191.3 L98.9 192.2 L97.1 193.1 L95.3 193.9 L93.5 194.8 L91.7 195.7 L89.9 196.6 L88.1 197.5 L86.3 198.4 L84.5 199.2 L82.7 200.1 L81.0 201.0 L79.2 201.9 L77.4 202.8 L75.6 203.7 L73.9 204.6 L72.1 205.6 L70.3 206.5 L68.6 207.4 L66.8 208.3 L65.0 209.2 L63.3 210.2 L61.5 211.1 L59.8 212.0 L58.0 212.9 L56.3 213.9 L54.5 214.8 L52.8 215.8 L51.0 216.7 L49.3 217.6 L47.6 218.6 L45.8 219.5 L44.1 220.5 L42.4 221.4 L40.6 222.4 L38.9 223.3 L37.2 224.3 L35.5 225.3 L33.8 226.2 L32.1 227.2 L30.3 228.2 L28.6 229.1 L26.9 230.1 L25.2 231.1 L23.5 232.0 L21.8 233.0 L20.1 234.0 L18.4 235.0 L16.7 236.0 L15.1 236.9 L13.4 237.9 L11.7 238.9 L10.0 239.9Z" fill="#1c1614" style="mix-blend-mode:multiply"/>
<path d="M176.5 162.5L189.2 170.6L184.0 159.7M317.5 128.2L327.8 139.2L325.5 127.4M429.8 130.4L436.3 142.7L437.0 131.6M517.8 156.1L520.3 167.2L523.3 158.7M584.0 198.8L583.3 207.6L587.5 202.0M630.2 254.1L627.8 260.6L632.2 257.3M655.9 307.1L652.8 311.9L656.9 310.0M665.0 338.1L661.8 342.0L665.6 340.8M668.4 355.4L664.2 357.6L668.3 361.0Z" fill="none" stroke="#2a2a30" stroke-width="0.8" stroke-linejoin="round" style="mix-blend-mode:multiply"/>
<path d="M13.8 242.5 L15.5 241.6 L17.3 240.6 L19.0 239.7 L20.7 238.7 L22.4 237.8 L24.1 236.8 L25.8 235.9 L27.5 234.9 L29.3 234.0 L31.0 233.0 L32.7 232.1 L34.4 231.1 L36.2 230.2 L37.9 229.2 L39.6 228.3 L41.3 227.3 L43.1 226.4 L44.8 225.4 L46.5 224.5 L48.3 223.5 L50.0 222.5 L51.7 221.6 L53.5 220.6 L55.2 219.7 L57.0 218.7 L58.7 217.8 L60.5 216.8 L62.2 215.8 L63.9 214.9 L65.7 213.9 L67.4 213.0 L69.2 212.0 L70.9 211.1 L72.7 210.1 L74.5 209.2 L76.2 208.2 L78.0 207.3 L79.7 206.3 L81.5 205.4 L83.2 204.4 L85.0 203.5 L86.8 202.5 L88.5 201.6 L90.3 200.6 L92.1 199.7 L93.8 198.7 L95.6 197.8 L97.4 196.8 L99.2 195.9 L100.9 195.0 L102.7 194.0 L104.5 193.1 L106.3 192.2 L108.0 191.2 L109.8 190.3 L111.6 189.4 L113.4 188.4 L115.2 187.5 L117.0 186.6 L118.8 185.7 L120.5 184.7 L122.3 183.8 L124.1 182.9 L125.9 182.0 L127.7 181.1 L129.5 180.2 L131.3 179.2 L133.1 178.3 L134.9 177.4 L136.7 176.5 L138.5 175.6 L140.3 174.7 L142.1 173.8 L143.9 172.9 L145.8 172.0 L147.6 171.1 L149.4 170.3 L151.2 169.4 L153.0 168.5 L154.8 167.6 L156.6 166.7 L158.4 165.8 L160.3 165.0 L162.1 164.1 L163.9 163.2 L165.7 162.3 L167.5 161.5 L169.4 160.6 L171.2 159.8 L173.0 158.9 L174.9 158.1 L176.7 157.2 L178.5 156.4 L180.4 155.5 L182.2 154.7 L184.0 153.8 L185.9 153.0 L187.7 152.2 L189.6 151.4 L191.4 150.5 L193.2 149.7 L195.1 148.9 L196.9 148.1 L198.8 147.3 L200.6 146.5 L202.5 145.7 L204.3 144.9 L206.2 144.1 L208.1 143.3 L209.9 142.6 L211.8 141.8 L213.6 141.0 L215.5 140.2 L217.4 139.5 L219.2 138.7 L221.1 138.0 L223.0 137.2 L224.8 136.5 L226.7 135.7 L228.6 135.0 L230.4 134.3 L232.3 133.5 L234.2 132.8 L236.1 132.1 L238.0 131.3 L239.8 130.6 L241.7 129.9 L243.6 129.2 L245.5 128.5 L247.4 127.8 L249.2 127.1 L251.1 126.4 L253.0 125.7 L254.9 125.1 L256.8 124.4 L258.7 123.7 L260.6 123.1 L262.5 122.4 L264.4 121.8 L266.3 121.1 L268.2 120.5 L270.1 119.8 L272.0 119.2 L273.9 118.6 L275.8 118.0 L277.7 117.4 L279.7 116.8 L281.6 116.2 L283.5 115.6 L285.4 115.0 L287.3 114.4 L289.3 113.9 L291.2 113.3 L293.1 112.7 L295.0 112.2 L297.0 111.6 L298.9 111.1 L300.8 110.6 L302.8 110.1 L304.7 109.6 L306.6 109.1 L308.6 108.6 L310.5 108.1 L312.5 107.7 L314.4 107.2 L316.4 106.7 L318.3 106.3 L320.3 105.8 L322.2 105.4 L324.2 105.0 L326.1 104.5 L328.1 104.1 L330.1 103.7 L332.0 103.3 L334.0 102.9 L335.9 102.5 L337.9 102.1 L339.9 101.8 L341.8 101.4 L343.8 101.0 L345.8 100.7 L347.8 100.3 L349.7 100.0 L351.7 99.7 L353.7 99.3 L355.7 99.0 L357.7 98.7 L359.6 98.4 L361.6 98.1 L363.6 97.9 L365.6 97.6 L367.6 97.3 L369.6 97.1 L371.6 96.8 L373.6 96.6 L375.6 96.3 L377.5 96.1 L379.5 95.9 L381.5 95.7 L383.5 95.5 L385.5 95.3 L387.6 95.1 L389.6 94.9 L391.6 94.8 L393.6 94.6 L395.6 94.5 L397.6 94.3 L399.6 94.2 L401.6 94.1 L403.6 94.0 L405.7 93.9 L407.7 93.8 L409.7 93.7 L411.7 93.6 L413.8 93.6 L415.8 93.5 L417.8 93.4 L419.8 93.4 L421.9 93.4 L423.9 93.4 L425.9 93.3 L428.0 93.3 L430.0 93.4 L432.0 93.4 L434.0 93.4 L436.1 93.4 L438.1 93.5 L440.1 93.5 L442.2 93.6 L444.2 93.7 L446.2 93.8 L448.3 93.9 L450.3 94.0 L452.3 94.1 L454.3 94.2 L456.4 94.4 L458.4 94.5 L460.4 94.7 L462.4 94.8 L464.5 95.0 L466.5 95.2 L468.5 95.4 L470.5 95.6 L472.5 95.8 L474.5 96.0 L476.6 96.3 L478.6 96.5 L480.6 96.8 L482.6 97.0 L484.6 97.3 L486.6 97.6 L488.6 97.9 L490.6 98.2 L492.6 98.5 L494.6 98.9 L496.5 99.2 L498.5 99.6 L500.5 100.0 L502.5 100.3 L504.4 100.7 L506.4 101.1 L508.4 101.5 L510.3 102.0 L512.3 102.4 L514.3 102.9 L516.2 103.3 L518.2 103.8 L520.1 104.3 L522.0 104.8 L524.0 105.3 L525.9 105.8 L527.8 106.3 L529.7 106.9 L531.6 107.4 L533.6 108.0 L535.5 108.6 L537.4 109.1 L539.2 109.8 L541.1 110.4 L543.0 111.0 L544.9 111.6 L546.8 112.3 L548.6 112.9 L550.5 113.6 L552.3 114.3 L554.2 115.0 L556.0 115.7 L557.9 116.5 L559.7 117.2 L561.5 118.0 L563.3 118.7 L565.1 119.5 L566.9 120.3 L568.7 121.1 L570.5 121.9 L572.3 122.7 L574.1 123.6 L575.8 124.4 L577.6 125.3 L579.3 126.2 L581.1 127.1 L582.8 128.0 L584.5 128.9 L586.2 129.9 L588.0 130.8 L589.7 131.8 L591.3 132.7 L593.0 133.7 L594.7 134.7 L596.4 135.8 L598.0 136.8 L599.7 137.8 L601.3 138.9 L603.0 140.0 L604.6 141.0 L606.2 142.1 L607.8 143.3 L609.4 144.4 L611.0 145.5 L612.5 146.7 L614.1 147.9 L615.7 149.0 L617.2 150.3 L618.8 151.5 L620.3 152.7 L621.8 153.9 L623.3 155.2 L624.8 156.5 L626.3 157.8 L627.7 159.1 L629.2 160.4 L630.7 161.7 L632.1 163.0 L633.5 164.4 L634.9 165.8 L636.3 167.1 L637.7 168.5 L639.1 169.9 L640.5 171.4 L641.9 172.8 L643.2 174.3 L644.5 175.7 L645.9 177.2 L647.2 178.7 L648.5 180.2 L649.8 181.7 L651.0 183.2 L652.3 184.8 L653.5 186.3 L654.8 187.9 L656.0 189.4 L657.2 191.0 L658.4 192.6 L659.6 194.2 L660.8 195.9 L661.9 197.5 L663.1 199.1 L664.2 200.8 L665.3 202.5 L666.4 204.2 L667.5 205.9 L668.6 207.6 L669.6 209.3 L670.7 211.0 L671.7 212.7 L672.7 214.5 L673.7 216.3 L674.7 218.0 L675.7 219.8 L676.7 221.6 L677.6 223.4 L678.5 225.2 L679.4 227.1 L680.3 228.9 L681.2 230.7 L682.1 232.6 L682.9 234.5 L683.8 236.3 L684.6 238.2 L685.4 240.1 L686.2 242.0 L687.0 243.9 L687.7 245.9 L688.4 247.8 L689.2 249.7 L689.9 251.7 L690.6 253.7 L691.2 255.6 L691.9 257.6 L692.5 259.6 L693.1 261.6 L693.7 263.6 L694.3 265.6 L694.9 267.7 L695.4 269.7 L696.0 271.8 L696.5 273.8 L697.0 275.9 L697.5 277.9 L698.5 277.7 L698.0 275.6 L697.6 273.6 L697.1 271.5 L696.5 269.4 L696.0 267.4 L695.4 265.3 L694.9 263.3 L694.3 261.3 L693.6 259.3 L693.0 257.3 L692.4 255.3 L691.7 253.3 L691.0 251.3 L690.3 249.3 L689.6 247.4 L688.9 245.4 L688.1 243.5 L687.4 241.5 L686.6 239.6 L685.8 237.7 L685.0 235.8 L684.2 233.9 L683.3 232.0 L682.4 230.2 L681.6 228.3 L680.7 226.4 L679.8 224.6 L678.8 222.8 L677.9 220.9 L677.0 219.1 L676.0 217.3 L675.0 215.5 L674.0 213.8 L673.0 212.0 L672.0 210.2 L670.9 208.5 L669.9 206.8 L668.8 205.0 L667.7 203.3 L666.6 201.6 L665.5 199.9 L664.4 198.3 L663.2 196.6 L662.1 194.9 L660.9 193.3 L659.7 191.7 L658.5 190.1 L657.3 188.5 L656.1 186.9 L654.8 185.3 L653.6 183.7 L652.3 182.1 L651.1 180.6 L649.8 179.1 L648.5 177.6 L647.2 176.0 L645.8 174.6 L644.5 173.1 L643.1 171.6 L641.8 170.1 L640.4 168.7 L639.0 167.3 L637.6 165.9 L636.2 164.5 L634.8 163.1 L633.4 161.7 L631.9 160.3 L630.5 159.0 L629.0 157.7 L627.5 156.3 L626.0 155.0 L624.5 153.7 L623.0 152.5 L621.5 151.2 L620.0 150.0 L618.4 148.7 L616.9 147.5 L615.3 146.3 L613.7 145.1 L612.2 143.9 L610.6 142.8 L609.0 141.6 L607.3 140.5 L605.7 139.4 L604.1 138.3 L602.5 137.2 L600.8 136.1 L599.1 135.0 L597.5 134.0 L595.8 132.9 L594.1 131.9 L592.4 130.9 L590.7 129.9 L589.0 128.9 L587.3 128.0 L585.6 127.0 L583.8 126.1 L582.1 125.1 L580.3 124.2 L578.6 123.3 L576.8 122.4 L575.0 121.6 L573.3 120.7 L571.5 119.9 L569.7 119.0 L567.9 118.2 L566.0 117.4 L564.2 116.6 L562.4 115.8 L560.6 115.0 L558.7 114.3 L556.9 113.5 L555.0 112.8 L553.2 112.1 L551.3 111.4 L549.4 110.7 L547.6 110.0 L545.7 109.3 L543.8 108.7 L541.9 108.0 L540.0 107.4 L538.1 106.8 L536.2 106.2 L534.3 105.6 L532.4 105.0 L530.4 104.4 L528.5 103.9 L526.6 103.3 L524.6 102.8 L522.7 102.3 L520.7 101.8 L518.8 101.3 L516.8 100.8 L514.9 100.3 L512.9 99.9 L510.9 99.4 L508.9 99.0 L507.0 98.5 L505.0 98.1 L503.0 97.7 L501.0 97.3 L499.0 96.9 L497.0 96.6 L495.0 96.2 L493.0 95.9 L491.0 95.5 L489.0 95.2 L487.0 94.9 L485.0 94.6 L483.0 94.3 L480.9 94.0 L478.9 93.7 L476.9 93.5 L474.9 93.2 L472.9 93.0 L470.8 92.7 L468.8 92.5 L466.8 92.3 L464.7 92.1 L462.7 91.9 L460.7 91.8 L458.6 91.6 L456.6 91.4 L454.5 91.3 L452.5 91.2 L450.4 91.1 L448.4 90.9 L446.4 90.8 L444.3 90.8 L442.3 90.7 L440.2 90.6 L438.2 90.5 L436.1 90.5 L434.1 90.5 L432.0 90.4 L430.0 90.4 L428.0 90.4 L425.9 90.4 L423.9 90.4 L421.8 90.4 L419.8 90.4 L417.7 90.5 L415.7 90.5 L413.7 90.6 L411.6 90.7 L409.6 90.7 L407.6 90.8 L405.5 90.9 L403.5 91.0 L401.5 91.1 L399.4 91.2 L397.4 91.4 L395.4 91.5 L393.4 91.6 L391.3 91.8 L389.3 92.0 L387.3 92.1 L385.3 92.3 L383.3 92.5 L381.2 92.7 L379.2 92.9 L377.2 93.1 L375.2 93.3 L373.2 93.6 L371.2 93.8 L369.2 94.1 L367.2 94.3 L365.2 94.6 L363.2 94.9 L361.2 95.1 L359.2 95.4 L357.2 95.7 L355.2 96.0 L353.2 96.3 L351.2 96.7 L349.2 97.0 L347.2 97.3 L345.3 97.7 L343.3 98.0 L341.3 98.4 L339.3 98.8 L337.3 99.1 L335.4 99.5 L333.4 99.9 L331.4 100.3 L329.4 100.7 L327.5 101.1 L325.5 101.5 L323.5 102.0 L321.6 102.4 L319.6 102.8 L317.6 103.3 L315.7 103.7 L313.7 104.2 L311.8 104.7 L309.8 105.1 L307.8 105.6 L305.9 106.1 L303.9 106.6 L302.0 107.1 L300.0 107.6 L298.1 108.1 L296.1 108.6 L294.2 109.1 L292.2 109.6 L290.3 110.1 L288.3 110.7 L286.4 111.2 L284.5 111.7 L282.5 112.3 L280.6 112.8 L278.6 113.4 L276.7 114.0 L274.8 114.5 L272.8 115.1 L270.9 115.7 L269.0 116.3 L267.0 116.9 L265.1 117.5 L263.2 118.1 L261.3 118.7 L259.3 119.3 L257.4 119.9 L255.5 120.5 L253.6 121.1 L251.7 121.8 L249.7 122.4 L247.8 123.1 L245.9 123.7 L244.0 124.4 L242.1 125.0 L240.2 125.7 L238.3 126.4 L236.4 127.0 L234.5 127.7 L232.5 128.4 L230.6 129.1 L228.7 129.8 L226.8 130.5 L225.0 131.2 L223.1 131.9 L221.2 132.6 L219.3 133.4 L217.4 134.1 L215.5 134.8 L213.6 135.6 L211.7 136.3 L209.8 137.1 L208.0 137.8 L206.1 138.6 L204.2 139.3 L202.3 140.1 L200.5 140.9 L198.6 141.6 L196.7 142.4 L194.8 143.2 L193.0 144.0 L191.1 144.8 L189.2 145.6 L187.4 146.4 L185.5 147.2 L183.6 148.0 L181.8 148.8 L179.9 149.6 L178.1 150.4 L176.2 151.2 L174.3 152.0 L172.5 152.9 L170.6 153.7 L168.8 154.5 L166.9 155.4 L165.1 156.2 L163.2 157.0 L161.4 157.9 L159.6 158.7 L157.7 159.6 L155.9 160.4 L154.0 161.3 L152.2 162.1 L150.4 163.0 L148.5 163.8 L146.7 164.7 L144.9 165.6 L143.0 166.5 L141.2 167.3 L139.4 168.2 L137.6 169.1 L135.7 170.0 L133.9 170.9 L132.1 171.8 L130.3 172.7 L128.5 173.5 L126.7 174.4 L124.8 175.3 L123.0 176.2 L121.2 177.1 L119.4 178.0 L117.6 179.0 L115.8 179.9 L114.0 180.8 L112.2 181.7 L110.4 182.6 L108.6 183.5 L106.8 184.4 L105.0 185.3 L103.2 186.3 L101.4 187.2 L99.6 188.1 L97.8 189.0 L96.0 190.0 L94.3 190.9 L92.5 191.8 L90.7 192.7 L88.9 193.7 L87.1 194.6 L85.3 195.5 L83.6 196.5 L81.8 197.4 L80.0 198.3 L78.2 199.3 L76.5 200.2 L74.7 201.1 L72.9 202.1 L71.1 203.0 L69.4 203.9 L67.6 204.9 L65.9 205.8 L64.1 206.8 L62.3 207.7 L60.6 208.6 L58.8 209.6 L57.1 210.5 L55.3 211.5 L53.5 212.4 L51.8 213.3 L50.0 214.3 L48.3 215.2 L46.5 216.2 L44.8 217.1 L43.0 218.0 L41.3 219.0 L39.6 219.9 L37.8 220.9 L36.1 221.8 L34.3 222.7 L32.6 223.7 L30.9 224.6 L29.1 225.5 L27.4 226.5 L25.7 227.4 L23.9 228.4 L22.2 229.3 L20.5 230.2 L18.8 231.2 L17.0 232.1 L15.3 233.0 L13.6 233.9 L11.9 234.9 L10.2 235.8Z" fill="#1c1614" style="mix-blend-mode:multiply"/>
<path d="M176.8 154.0L189.1 160.6L183.6 151.0M321.3 104.0L331.9 113.0L328.5 102.4M452.7 92.6L459.0 102.1L458.7 93.1M550.0 112.2L552.6 120.6L554.4 113.8M614.3 146.7L614.3 154.3L617.5 149.2M655.4 187.3L653.7 193.4L657.4 189.9M680.1 226.9L677.6 232.0L681.4 229.6M691.3 253.9L688.4 258.0L692.1 256.4M698.0 277.8L693.9 280.3L698.2 283.4Z" fill="none" stroke="#2a2a30" stroke-width="0.8" stroke-linejoin="round" style="mix-blend-mode:multiply"/>
</g>
<path d="M696 281H772M665.3 360.8H752" stroke="#231815" stroke-width="2.3" fill="none"/>
<rect x="10.3" y="9.4" width="818.9" height="497.6" fill="none" stroke="#1a1311" stroke-width="2.5"/>
<circle cx="750.5" cy="249.2" r="7.3" fill="#f05a1e"/>
<circle cx="773.9" cy="279.6" r="7.3" fill="#231815"/>
<circle cx="734.9" cy="337.8" r="7.3" fill="#f05a1e"/>
<circle cx="754.9" cy="360.1" r="7.3" fill="#231815"/>
<circle cx="663" cy="377.5" r="7.3" fill="#0f9444"/>
<circle cx="728.3" cy="392.3" r="7.3" fill="#0f9444"/>
<circle cx="648.3" cy="456.3" r="7.3" fill="#0f9444"/>
</svg>
<svg width="840" height="521" viewBox="0 0 840 521" style="position:absolute;left:0;top:0" font-family="'Liberation Sans', sans-serif" font-weight="bold">
<text x="659.3" y="50" font-size="38.5" fill="#777" stroke="#777" stroke-width="0.9" textLength="159" lengthAdjust="spacingAndGlyphs">Load 3kg</text>
<text x="758.8" y="255.3" font-size="16.2" fill="#f05a1e" stroke="#f05a1e" stroke-width="0.45" textLength="65.2" lengthAdjust="spacingAndGlyphs">105BHH</text>
<text x="782.2" y="285.5" font-size="16.2" fill="#231815" stroke="#231815" stroke-width="0.45" textLength="41.2" lengthAdjust="spacingAndGlyphs">103H</text>
<text x="743.6" y="343.5" font-size="16.2" fill="#f05a1e" stroke="#f05a1e" stroke-width="0.45" textLength="52" lengthAdjust="spacingAndGlyphs">107BH</text>
<text x="763.3" y="366.2" font-size="16.2" fill="#231815" stroke="#231815" stroke-width="0.45" textLength="56.3" lengthAdjust="spacingAndGlyphs">911MH</text>
<text x="672" y="383.4" font-size="16.2" fill="#0f9444" stroke="#0f9444" stroke-width="0.45" textLength="40.8" lengthAdjust="spacingAndGlyphs">104H</text>
<text x="737.3" y="398.3" font-size="16.2" fill="#0f9444" stroke="#0f9444" stroke-width="0.45" textLength="40.2" lengthAdjust="spacingAndGlyphs">110H</text>
<text x="597" y="462.3" font-size="16.2" fill="#0f9444" stroke="#0f9444" stroke-width="0.45" textLength="42.5" lengthAdjust="spacingAndGlyphs">102M</text>
<text x="29.3" y="442" font-size="14.6" fill="#1a1311" stroke="#1a1311" stroke-width="0.45" textLength="112.3" lengthAdjust="spacingAndGlyphs">RunnerExceed</text>
<text x="29.3" y="461.8" font-size="14.6" fill="#0f9444" stroke="#0f9444" stroke-width="0.45" textLength="208.3" lengthAdjust="spacingAndGlyphs">RunnerExceed Plug Model</text>
<text x="29.3" y="481.2" font-size="14.6" fill="#f05a1e" stroke="#f05a1e" stroke-width="0.45" textLength="203.8" lengthAdjust="spacingAndGlyphs">RunnerExceed Bait Model</text>
</svg>
</div>
</body></html>
